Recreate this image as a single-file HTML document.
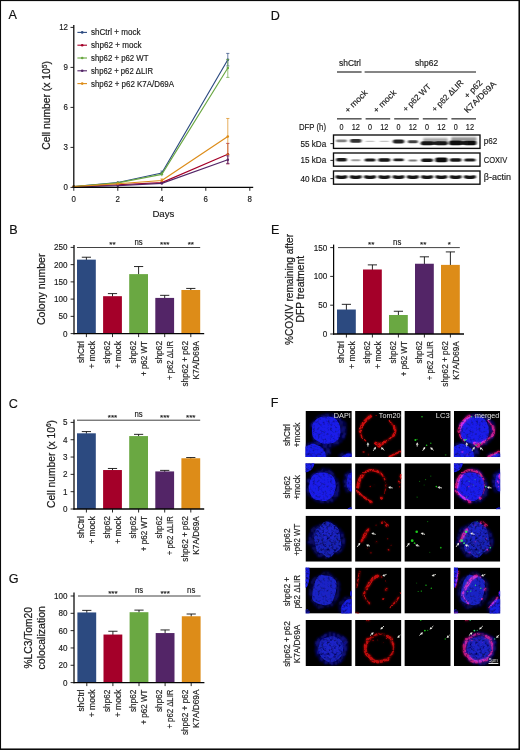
<!DOCTYPE html>
<html lang="en"><head><meta charset="utf-8"><title>Figure</title>
<style>
html,body{margin:0;padding:0;background:#fff;}
body{width:520px;height:750px;overflow:hidden;position:relative;font-family:"Liberation Sans",sans-serif;}
svg{display:block;position:absolute;left:0;top:0;}
svg text{font-family:"Liberation Sans",sans-serif;}
</style></head><body>
<svg width="520" height="750" viewBox="0 0 520 750">
<defs><filter id="bl1" filterUnits="userSpaceOnUse" x="328" y="128" width="160" height="64"><feGaussianBlur stdDeviation="0.9 0.6"/></filter><filter id="bl2" filterUnits="userSpaceOnUse" x="328" y="128" width="160" height="64"><feGaussianBlur stdDeviation="1.0 0.8"/></filter></defs>
<defs><filter id="nuc" x="-20%" y="-20%" width="140%" height="140%"><feTurbulence type="fractalNoise" baseFrequency="0.4" numOctaves="2" seed="4" result="n"/><feColorMatrix in="n" type="matrix" values="0 0 0 0 0  0 0 0 0 0  0 0 0 0 0  1.5 0 0 0 0.15" result="na"/><feComposite in="SourceGraphic" in2="na" operator="in" result="g"/><feGaussianBlur in="g" stdDeviation="0.6" result="b"/><feComponentTransfer in="b"><feFuncA type="linear" slope="1.12" intercept="0"/></feComponentTransfer></filter><filter id="haze" x="-20%" y="-20%" width="140%" height="140%"><feTurbulence type="fractalNoise" baseFrequency="0.5" numOctaves="2" seed="9" result="n"/><feColorMatrix in="n" type="matrix" values="0 0 0 0 0  0 0 0 0 0  0 0 0 0 0  3.4 0 0 0 -1.2" result="na"/><feComposite in="SourceGraphic" in2="na" operator="in" result="g"/><feGaussianBlur in="g" stdDeviation="0.8" result="b"/><feComponentTransfer in="b"><feFuncA type="linear" slope="1.3" intercept="0"/></feComponentTransfer></filter><filter id="nucg" x="-20%" y="-20%" width="140%" height="140%"><feTurbulence type="fractalNoise" baseFrequency="0.42" numOctaves="2" seed="31" result="n"/><feColorMatrix in="n" type="matrix" values="0 0 0 0 0  0 0 0 0 0  0 0 0 0 0  2.3 0 0 0 -0.4" result="na"/><feComposite in="SourceGraphic" in2="na" operator="in" result="g"/><feGaussianBlur in="g" stdDeviation="0.75" result="b"/><feComponentTransfer in="b"><feFuncA type="linear" slope="1.2" intercept="0"/></feComponentTransfer></filter><filter id="redf" x="-20%" y="-20%" width="140%" height="140%"><feTurbulence type="fractalNoise" baseFrequency="0.5" numOctaves="2" seed="17" result="n"/><feColorMatrix in="n" type="matrix" values="0 0 0 0 0  0 0 0 0 0  0 0 0 0 0  5.5 0 0 0 -2" result="na"/><feComposite in="SourceGraphic" in2="na" operator="in" result="g"/><feGaussianBlur in="g" stdDeviation="0.6" result="b"/><feComponentTransfer in="b"><feFuncA type="linear" slope="1.7" intercept="0"/></feComponentTransfer></filter><filter id="redh" x="-30%" y="-30%" width="160%" height="160%"><feTurbulence type="fractalNoise" baseFrequency="0.4" numOctaves="2" seed="23" result="n"/><feColorMatrix in="n" type="matrix" values="0 0 0 0 0  0 0 0 0 0  0 0 0 0 0  3.4 0 0 0 -1" result="na"/><feComposite in="SourceGraphic" in2="na" operator="in" result="g"/><feGaussianBlur in="g" stdDeviation="1.3" result="b"/><feComponentTransfer in="b"><feFuncA type="linear" slope="2.4" intercept="0"/></feComponentTransfer></filter><filter id="grn" x="-50%" y="-50%" width="200%" height="200%"><feGaussianBlur stdDeviation="0.35"/></filter></defs>
<defs><g id="h0"><g filter="url(#haze)" opacity="0.80"><path d="M41.1 16.4Q40.5 19.5 40.5 22.4Q40.5 25.4 38.7 27.8Q36.8 30.1 34.6 32.3Q32.4 34.5 29.4 35.6Q26.3 36.7 23.2 35.7Q20.1 34.8 17.4 33.8Q14.7 32.8 11.3 32.0Q7.9 31.2 7.2 28.1Q6.5 25.0 6.0 22.3Q5.5 19.5 4.7 16.3Q3.9 13.1 6.4 10.9Q8.9 8.6 11.0 6.2Q13.1 3.8 16.5 3.3Q19.8 2.8 23.1 2.6Q26.3 2.3 29.0 4.0Q31.6 5.8 34.6 7.0Q37.6 8.3 39.6 10.8Q41.7 13.3 41.1 16.4Z" fill="#1010a8" fill-opacity="1.00"/><path d="M25.6 39.8Q25.2 42.0 24.5 43.9Q23.8 45.8 22.9 47.7Q22.0 49.6 19.7 50.6Q17.4 51.7 15.0 52.2Q12.5 52.8 9.9 53.2Q7.3 53.6 4.3 53.4Q1.3 53.3 -0.8 51.7Q-3.0 50.2 -4.4 48.2Q-5.8 46.3 -5.5 44.2Q-5.1 42.0 -5.1 39.9Q-5.1 37.9 -3.4 36.2Q-1.7 34.6 0.4 33.5Q2.5 32.3 5.0 31.7Q7.4 31.1 10.0 31.0Q12.6 30.9 15.7 30.8Q18.7 30.7 20.9 32.2Q23.1 33.8 24.5 35.7Q26.0 37.6 25.6 39.8Z" fill="#1010a8" fill-opacity="1.00"/><path d="M49.0 44.3Q49.5 45.0 49.2 45.7Q49.0 46.5 48.1 47.0Q47.1 47.6 46.0 47.9Q44.8 48.3 43.5 48.4Q42.3 48.5 40.9 48.8Q39.6 49.1 38.3 48.8Q37.0 48.4 35.8 48.1Q34.6 47.7 34.1 47.0Q33.7 46.3 33.1 45.7Q32.6 45.0 33.2 44.3Q33.8 43.7 34.2 43.0Q34.5 42.3 35.7 41.8Q36.8 41.4 38.2 41.3Q39.6 41.1 41.0 41.1Q42.4 41.0 43.8 41.2Q45.1 41.4 45.9 42.0Q46.8 42.6 47.7 43.1Q48.6 43.6 49.0 44.3Z" fill="#1010a8" fill-opacity="1.00"/></g></g><g id="b0"><g filter="url(#nuc)"><path d="M34.6 16.0Q35.1 18.9 34.9 21.9Q34.6 24.9 33.6 26.8Q32.6 28.7 31.0 30.1Q29.3 31.5 26.9 32.0Q24.5 32.6 20.8 32.7Q17.1 32.8 15.0 31.7Q12.9 30.6 11.1 29.5Q9.3 28.5 8.1 26.7Q6.8 25.0 6.6 21.9Q6.4 18.9 6.6 15.9Q6.8 12.8 8.2 11.2Q9.6 9.6 11.1 8.2Q12.6 6.8 14.9 6.3Q17.3 5.7 20.8 5.6Q24.4 5.4 26.8 6.0Q29.1 6.7 30.5 8.2Q31.9 9.7 32.9 11.4Q34.0 13.2 34.6 16.0Z" fill="#1a1ce8" fill-opacity="1.00"/><path d="M20.2 44.1Q20.2 45.9 20.2 47.8Q20.1 49.8 18.1 50.6Q16.1 51.5 14.5 52.7Q13.0 54.0 10.8 53.7Q8.6 53.4 6.5 53.1Q4.5 52.8 2.2 52.3Q-0.1 51.8 -0.9 49.9Q-1.7 48.0 -2.9 46.4Q-4.0 44.7 -3.8 42.9Q-3.7 41.0 -2.9 39.4Q-2.2 37.7 -0.9 36.3Q0.5 35.0 2.4 34.4Q4.4 33.8 6.4 33.1Q8.4 32.4 10.4 33.4Q12.4 34.4 14.3 35.3Q16.1 36.2 17.2 37.7Q18.4 39.1 19.3 40.8Q20.3 42.4 20.2 44.1Z" fill="#1a1ce8" fill-opacity="0.92"/><path d="M48.3 44.1Q48.3 44.7 48.3 45.3Q48.3 45.9 48.0 46.6Q47.8 47.3 46.8 47.7Q45.7 48.2 44.8 48.6Q43.8 49.1 42.7 49.3Q41.6 49.6 40.6 49.4Q39.6 49.3 38.6 49.2Q37.5 49.1 36.8 48.8Q36.1 48.4 35.7 47.9Q35.3 47.4 35.8 46.7Q36.3 46.1 36.6 45.5Q36.9 44.9 37.7 44.4Q38.5 43.9 39.3 43.3Q40.1 42.8 41.3 42.6Q42.5 42.4 43.4 42.6Q44.4 42.8 45.6 42.7Q46.9 42.6 47.6 43.0Q48.3 43.4 48.3 44.1Z" fill="#1a1ce8" fill-opacity="0.85"/></g></g><g id="r0"><g filter="url(#redh)" opacity="0.55"><path d="M15.7 5.1Q12.3 7.5 10.7 9.2Q9.0 10.8 8.1 12.4Q7.2 14.0 6.4 15.8Q5.6 17.5 5.3 19.0L5.1 20.5" fill="none" stroke="currentColor" stroke-width="2.7" stroke-linecap="round" stroke-linejoin="round" stroke-opacity="1.00"/><path d="M5.1 20.5Q5.8 25.0 6.9 26.5Q8.0 28.0 9.3 28.9L10.6 29.8" fill="none" stroke="currentColor" stroke-width="1.3" stroke-linecap="round" stroke-linejoin="round" stroke-opacity="0.75"/><path d="M33.9 9.4Q36.5 12.5 37.5 13.8L38.6 15.2" fill="none" stroke="currentColor" stroke-width="1.2" stroke-linecap="round" stroke-linejoin="round" stroke-opacity="0.70"/><path d="M38.9 15.5Q40.2 18.5 40.1 20.0Q40.0 21.5 39.2 23.0L38.4 24.5" fill="none" stroke="currentColor" stroke-width="2.4" stroke-linecap="round" stroke-linejoin="round" stroke-opacity="0.95"/><path d="M38.4 24.5Q35.5 27.5 33.5 28.6Q31.5 29.8 30.0 30.7L28.5 31.6" fill="none" stroke="currentColor" stroke-width="1.4" stroke-linecap="round" stroke-linejoin="round" stroke-opacity="0.80"/><path d="M20.5 32.2Q23.5 33.6 25.2 33.2Q27.0 32.8 28.3 32.0L29.6 31.2" fill="none" stroke="currentColor" stroke-width="2.6" stroke-linecap="round" stroke-linejoin="round" stroke-opacity="1.00"/><circle cx="24.2" cy="34.6" r="2.00" fill="currentColor" fill-opacity="1.00"/><path d="M34.4 45.6Q39.0 43.6 42.1 42.1L45.2 40.6" fill="none" stroke="currentColor" stroke-width="1.7" stroke-linecap="round" stroke-linejoin="round" stroke-opacity="0.90"/><circle cx="21.0" cy="4.6" r="0.50" fill="currentColor" fill-opacity="0.80"/><circle cx="8.5" cy="41.0" r="1.20" fill="currentColor" fill-opacity="0.35"/><circle cx="13.0" cy="43.5" r="1.00" fill="currentColor" fill-opacity="0.30"/></g><g filter="url(#redf)" opacity="0.82"><path d="M15.7 5.1Q12.3 7.5 10.7 9.2Q9.0 10.8 8.1 12.4Q7.2 14.0 6.4 15.8Q5.6 17.5 5.3 19.0L5.1 20.5" fill="none" stroke="currentColor" stroke-width="2.7" stroke-linecap="round" stroke-linejoin="round" stroke-opacity="1.00"/><path d="M5.1 20.5Q5.8 25.0 6.9 26.5Q8.0 28.0 9.3 28.9L10.6 29.8" fill="none" stroke="currentColor" stroke-width="1.3" stroke-linecap="round" stroke-linejoin="round" stroke-opacity="0.75"/><path d="M33.9 9.4Q36.5 12.5 37.5 13.8L38.6 15.2" fill="none" stroke="currentColor" stroke-width="1.2" stroke-linecap="round" stroke-linejoin="round" stroke-opacity="0.70"/><path d="M38.9 15.5Q40.2 18.5 40.1 20.0Q40.0 21.5 39.2 23.0L38.4 24.5" fill="none" stroke="currentColor" stroke-width="2.4" stroke-linecap="round" stroke-linejoin="round" stroke-opacity="0.95"/><path d="M38.4 24.5Q35.5 27.5 33.5 28.6Q31.5 29.8 30.0 30.7L28.5 31.6" fill="none" stroke="currentColor" stroke-width="1.4" stroke-linecap="round" stroke-linejoin="round" stroke-opacity="0.80"/><path d="M20.5 32.2Q23.5 33.6 25.2 33.2Q27.0 32.8 28.3 32.0L29.6 31.2" fill="none" stroke="currentColor" stroke-width="2.6" stroke-linecap="round" stroke-linejoin="round" stroke-opacity="1.00"/><circle cx="24.2" cy="34.6" r="2.00" fill="currentColor" fill-opacity="1.00"/><path d="M34.4 45.6Q39.0 43.6 42.1 42.1L45.2 40.6" fill="none" stroke="currentColor" stroke-width="1.7" stroke-linecap="round" stroke-linejoin="round" stroke-opacity="0.90"/><circle cx="21.0" cy="4.6" r="0.50" fill="currentColor" fill-opacity="0.80"/><circle cx="8.5" cy="41.0" r="1.20" fill="currentColor" fill-opacity="0.35"/><circle cx="13.0" cy="43.5" r="1.00" fill="currentColor" fill-opacity="0.30"/></g></g><g id="g0" filter="url(#grn)"><circle cx="17.6" cy="5.7" r="0.80" fill="currentColor" fill-opacity="0.90"/><circle cx="11.0" cy="29.0" r="1.00" fill="currentColor" fill-opacity="1.00"/><circle cx="22.2" cy="34.3" r="0.80" fill="currentColor" fill-opacity="1.00"/><circle cx="26.4" cy="32.3" r="0.70" fill="currentColor" fill-opacity="0.80"/><circle cx="41.3" cy="43.8" r="0.90" fill="currentColor" fill-opacity="0.40"/><circle cx="12.6" cy="28.4" r="0.60" fill="currentColor" fill-opacity="0.70"/></g><g id="a0"><line x1="12.8" y1="35.6" x2="12.8" y2="33.7" stroke="#e9e9e2" stroke-width="0.9"/><polygon points="12.8,31.2 14.2,33.7 11.5,33.7" fill="#f0f0ea"/><line x1="18.2" y1="39.8" x2="19.4" y2="37.9" stroke="#e9e9e2" stroke-width="0.9"/><polygon points="20.8,35.8 20.6,38.6 18.3,37.2" fill="#f0f0ea"/><line x1="29.2" y1="39.3" x2="27.6" y2="37.9" stroke="#e9e9e2" stroke-width="0.9"/><polygon points="25.8,36.2 28.6,36.9 26.7,38.9" fill="#f0f0ea"/></g><g id="h1"><g filter="url(#haze)" opacity="0.80"><path d="M33.7 20.1Q34.2 23.0 34.4 26.2Q34.6 29.4 33.0 32.2Q31.4 35.0 29.1 37.3Q26.9 39.7 23.6 39.6Q20.3 39.6 17.5 39.7Q14.6 39.8 12.0 38.6Q9.4 37.5 7.1 35.7Q4.8 33.9 2.6 31.7Q0.3 29.4 0.8 26.2Q1.3 23.0 1.1 19.9Q1.0 16.8 2.9 14.4Q4.9 12.1 7.0 10.1Q9.1 8.1 11.8 6.8Q14.5 5.5 17.6 4.8Q20.7 4.1 23.6 5.6Q26.4 7.1 28.0 9.8Q29.6 12.6 31.4 14.8Q33.2 17.1 33.7 20.1Z" fill="#1010a8" fill-opacity="1.00"/><path d="M51.7 16.3Q51.4 18.5 51.6 20.6Q51.8 22.8 51.2 24.6Q50.5 26.4 49.7 28.1Q48.8 29.8 47.5 29.8Q46.2 29.8 45.0 29.8Q43.8 29.7 42.6 29.6Q41.3 29.4 40.4 27.9Q39.5 26.5 39.1 24.5Q38.7 22.4 38.2 20.5Q37.7 18.5 38.2 16.5Q38.6 14.5 38.9 12.4Q39.3 10.4 40.6 9.6Q41.8 8.9 42.8 8.1Q43.9 7.3 45.1 6.5Q46.3 5.7 47.4 7.1Q48.4 8.4 49.3 9.8Q50.1 11.2 51.0 12.7Q52.0 14.1 51.7 16.3Z" fill="#1010a8" fill-opacity="1.00"/></g></g><g id="b1"><g filter="url(#nuc)"><path d="M30.2 20.2Q30.6 23.2 29.8 26.0Q28.9 28.7 28.2 31.0Q27.5 33.3 25.7 34.5Q23.9 35.7 21.8 36.9Q19.8 38.2 16.9 37.6Q14.0 37.1 11.7 36.8Q9.3 36.5 7.7 34.9Q6.1 33.3 5.0 31.2Q3.8 29.1 3.4 26.2Q3.0 23.2 3.7 20.4Q4.5 17.6 5.4 15.5Q6.4 13.4 7.9 11.7Q9.4 10.1 11.7 9.6Q13.9 9.0 16.8 9.1Q19.6 9.1 21.8 9.8Q23.9 10.6 25.8 11.8Q27.7 13.0 28.7 15.1Q29.8 17.3 30.2 20.2Z" fill="#1a1ce8" fill-opacity="1.00"/><path d="M6.8 -3.9Q7.7 -3.1 8.4 -2.1Q9.1 -1.1 8.9 0.2Q8.7 1.5 8.2 2.8Q7.6 4.0 6.8 5.2Q6.1 6.3 4.9 7.2Q3.7 8.0 2.3 8.4Q0.9 8.9 -0.4 8.9Q-1.8 8.8 -2.9 8.3Q-4.0 7.7 -4.9 6.9Q-5.7 6.1 -6.5 5.1Q-7.2 4.1 -6.9 2.8Q-6.7 1.5 -6.4 0.1Q-6.1 -1.2 -5.2 -2.4Q-4.3 -3.6 -3.1 -4.5Q-1.8 -5.4 -0.4 -5.9Q1.1 -6.4 2.4 -6.0Q3.7 -5.6 4.9 -5.1Q6.0 -4.7 6.8 -3.9Z" fill="#1a1ce8" fill-opacity="0.95"/><path d="M50.6 17.0Q50.9 18.5 51.0 20.2Q51.1 21.9 50.6 23.3Q50.1 24.8 49.3 25.7Q48.6 26.7 47.7 27.0Q46.9 27.3 45.9 27.9Q45.0 28.4 44.1 27.8Q43.2 27.2 42.6 25.9Q42.0 24.6 41.6 23.2Q41.1 21.8 41.1 20.1Q41.1 18.5 41.3 17.0Q41.6 15.6 41.9 14.1Q42.1 12.6 42.7 11.3Q43.4 10.1 44.3 10.0Q45.2 10.0 46.1 9.3Q47.0 8.6 47.7 9.7Q48.5 10.7 49.1 11.7Q49.8 12.7 50.1 14.1Q50.4 15.5 50.6 17.0Z" fill="#1a1ce8" fill-opacity="0.75"/><path d="M48.9 46.1Q49.3 46.5 48.9 46.9Q48.6 47.3 48.2 47.6Q47.9 48.0 47.7 48.4Q47.4 48.9 46.7 48.8Q46.1 48.8 45.5 48.8Q44.9 48.8 44.3 48.8Q43.7 48.7 43.3 48.4Q42.9 48.1 42.4 47.7Q42.0 47.4 42.1 47.0Q42.2 46.5 42.0 46.0Q41.9 45.6 42.4 45.3Q42.9 45.0 43.3 44.6Q43.7 44.3 44.3 44.1Q44.8 43.8 45.5 43.9Q46.1 43.9 46.8 44.0Q47.4 44.2 47.8 44.5Q48.3 44.8 48.4 45.3Q48.5 45.7 48.9 46.1Z" fill="#1a1ce8" fill-opacity="0.90"/></g></g><g id="r1"><g filter="url(#redh)" opacity="0.55"><path d="M8.5 10.2Q6.0 13.5 5.2 15.2Q4.4 17.0 3.8 18.8Q3.2 20.5 3.0 22.1L2.8 23.7" fill="none" stroke="currentColor" stroke-width="3.0" stroke-linecap="round" stroke-linejoin="round" stroke-opacity="1.00"/><path d="M10.4 8.5Q13.5 7.2 15.3 7.0Q17.1 6.8 19.1 7.1Q21.0 7.4 22.9 8.3L24.8 9.2" fill="none" stroke="currentColor" stroke-width="2.0" stroke-linecap="round" stroke-linejoin="round" stroke-opacity="0.85"/><path d="M24.8 9.2Q27.8 12.0 28.8 13.8L29.8 15.5" fill="none" stroke="currentColor" stroke-width="1.6" stroke-linecap="round" stroke-linejoin="round" stroke-opacity="0.75"/><path d="M29.8 15.5Q31.0 21.5 30.7 23.8Q30.4 26.0 29.9 28.0L29.4 30.0" fill="none" stroke="currentColor" stroke-width="1.0" stroke-linecap="round" stroke-linejoin="round" stroke-opacity="0.55"/><circle cx="26.3" cy="34.6" r="1.50" fill="currentColor" fill-opacity="1.00"/><path d="M1.7 27.5Q4.5 30.5 5.8 31.5Q7.0 32.5 8.3 33.5L9.6 34.4" fill="none" stroke="currentColor" stroke-width="2.0" stroke-linecap="round" stroke-linejoin="round" stroke-opacity="0.75"/><path d="M9.6 34.4Q12.5 36.5 14.2 37.5L15.8 38.6" fill="none" stroke="currentColor" stroke-width="2.0" stroke-linecap="round" stroke-linejoin="round" stroke-opacity="0.85"/><circle cx="16.0" cy="38.8" r="1.40" fill="currentColor" fill-opacity="0.90"/><circle cx="15.2" cy="23.2" r="0.80" fill="currentColor" fill-opacity="0.50"/><circle cx="19.0" cy="22.0" r="0.50" fill="currentColor" fill-opacity="0.40"/><path d="M45.9 11.5Q45.4 13.5 45.6 14.2L45.9 15.0" fill="none" stroke="currentColor" stroke-width="1.8" stroke-linecap="round" stroke-linejoin="round" stroke-opacity="1.00"/><path d="M43.8 17.8L44.6 19.4" fill="none" stroke="currentColor" stroke-width="1.3" stroke-linecap="round" stroke-linejoin="round" stroke-opacity="0.85"/><circle cx="44.5" cy="23.5" r="0.80" fill="currentColor" fill-opacity="0.45"/></g><g filter="url(#redf)" opacity="0.82"><path d="M8.5 10.2Q6.0 13.5 5.2 15.2Q4.4 17.0 3.8 18.8Q3.2 20.5 3.0 22.1L2.8 23.7" fill="none" stroke="currentColor" stroke-width="3.0" stroke-linecap="round" stroke-linejoin="round" stroke-opacity="1.00"/><path d="M10.4 8.5Q13.5 7.2 15.3 7.0Q17.1 6.8 19.1 7.1Q21.0 7.4 22.9 8.3L24.8 9.2" fill="none" stroke="currentColor" stroke-width="2.0" stroke-linecap="round" stroke-linejoin="round" stroke-opacity="0.85"/><path d="M24.8 9.2Q27.8 12.0 28.8 13.8L29.8 15.5" fill="none" stroke="currentColor" stroke-width="1.6" stroke-linecap="round" stroke-linejoin="round" stroke-opacity="0.75"/><path d="M29.8 15.5Q31.0 21.5 30.7 23.8Q30.4 26.0 29.9 28.0L29.4 30.0" fill="none" stroke="currentColor" stroke-width="1.0" stroke-linecap="round" stroke-linejoin="round" stroke-opacity="0.55"/><circle cx="26.3" cy="34.6" r="1.50" fill="currentColor" fill-opacity="1.00"/><path d="M1.7 27.5Q4.5 30.5 5.8 31.5Q7.0 32.5 8.3 33.5L9.6 34.4" fill="none" stroke="currentColor" stroke-width="2.0" stroke-linecap="round" stroke-linejoin="round" stroke-opacity="0.75"/><path d="M9.6 34.4Q12.5 36.5 14.2 37.5L15.8 38.6" fill="none" stroke="currentColor" stroke-width="2.0" stroke-linecap="round" stroke-linejoin="round" stroke-opacity="0.85"/><circle cx="16.0" cy="38.8" r="1.40" fill="currentColor" fill-opacity="0.90"/><circle cx="15.2" cy="23.2" r="0.80" fill="currentColor" fill-opacity="0.50"/><circle cx="19.0" cy="22.0" r="0.50" fill="currentColor" fill-opacity="0.40"/><path d="M45.9 11.5Q45.4 13.5 45.6 14.2L45.9 15.0" fill="none" stroke="currentColor" stroke-width="1.8" stroke-linecap="round" stroke-linejoin="round" stroke-opacity="1.00"/><path d="M43.8 17.8L44.6 19.4" fill="none" stroke="currentColor" stroke-width="1.3" stroke-linecap="round" stroke-linejoin="round" stroke-opacity="0.85"/><circle cx="44.5" cy="23.5" r="0.80" fill="currentColor" fill-opacity="0.45"/></g></g><g id="g1" filter="url(#grn)"><circle cx="26.4" cy="12.7" r="0.60" fill="currentColor" fill-opacity="0.60"/><circle cx="21.2" cy="16.3" r="0.60" fill="currentColor" fill-opacity="0.60"/><circle cx="15.2" cy="18.0" r="0.60" fill="currentColor" fill-opacity="0.50"/><circle cx="31.9" cy="23.3" r="0.80" fill="currentColor" fill-opacity="1.00"/><circle cx="19.7" cy="21.8" r="0.50" fill="currentColor" fill-opacity="0.50"/><circle cx="12.7" cy="33.8" r="0.60" fill="currentColor" fill-opacity="0.60"/></g><g id="a1"><line x1="37.6" y1="24.7" x2="35.5" y2="24.3" stroke="#e9e9e2" stroke-width="0.9"/><polygon points="33.0,23.8 35.7,23.0 35.2,25.6" fill="#f0f0ea"/></g><g id="h2"><g filter="url(#haze)" opacity="0.75"><path d="M39.1 20.5Q40.1 24.0 39.6 27.7Q39.0 31.3 37.2 34.4Q35.3 37.6 31.6 38.0Q28.0 38.5 25.6 40.9Q23.2 43.2 20.1 42.8Q16.9 42.3 13.9 41.5Q10.9 40.6 9.3 37.8Q7.6 34.9 6.1 32.4Q4.5 29.9 3.4 27.0Q2.3 24.0 3.3 21.0Q4.4 18.0 5.4 15.0Q6.4 11.9 9.3 10.8Q12.2 9.7 14.7 8.6Q17.2 7.5 20.3 5.8Q23.3 4.2 26.1 6.0Q28.8 7.9 31.3 9.8Q33.8 11.7 35.9 14.4Q38.0 17.1 39.1 20.5Z" fill="#1010a8" fill-opacity="1.00"/><path d="M16.4 26.0Q16.4 27.0 16.3 27.9Q16.2 28.9 15.0 29.4Q13.9 29.9 13.4 30.9Q13.0 31.9 11.5 31.7Q10.1 31.5 8.9 31.8Q7.7 32.2 6.8 31.5Q5.9 30.8 4.6 30.6Q3.3 30.4 3.2 29.5Q3.1 28.5 2.3 27.8Q1.6 27.0 1.8 26.1Q2.0 25.2 2.6 24.4Q3.2 23.5 4.4 23.1Q5.6 22.7 6.6 22.2Q7.7 21.6 9.0 21.5Q10.4 21.4 11.3 22.3Q12.1 23.1 13.3 23.5Q14.4 23.8 15.4 24.4Q16.4 25.1 16.4 26.0Z" fill="#1010a8" fill-opacity="1.00"/></g></g><g id="b2"><g filter="url(#nucg)"><path d="M34.5 19.7Q34.7 22.8 35.5 25.9Q36.4 29.1 35.2 32.0Q33.9 34.8 31.4 35.8Q28.9 36.8 27.3 39.4Q25.7 42.0 23.1 41.7Q20.5 41.3 18.6 39.2Q16.7 37.1 13.8 37.0Q10.9 37.0 10.5 33.6Q10.2 30.2 9.5 27.5Q8.8 24.8 8.7 22.0Q8.7 19.1 9.4 16.3Q10.1 13.5 12.3 12.3Q14.5 11.2 16.1 8.8Q17.7 6.4 20.2 5.9Q22.7 5.4 25.0 6.9Q27.2 8.5 29.6 9.8Q31.9 11.1 33.1 13.9Q34.3 16.7 34.5 19.7Z" fill="#1a22b8" fill-opacity="0.90"/><path d="M30.6 15.8Q31.4 17.0 30.7 18.2Q30.0 19.4 29.3 20.5Q28.6 21.5 27.7 22.6Q26.8 23.6 25.3 23.7Q23.8 23.7 22.4 24.3Q20.9 24.8 19.5 24.3Q18.0 23.8 17.3 22.6Q16.6 21.4 15.4 20.5Q14.2 19.7 14.1 18.3Q14.0 17.0 14.1 15.7Q14.3 14.4 14.8 13.1Q15.4 11.7 16.6 10.8Q17.8 9.9 19.4 9.8Q21.1 9.7 22.6 9.4Q24.1 9.1 25.5 9.6Q27.0 10.1 28.3 10.9Q29.6 11.7 29.7 13.2Q29.7 14.7 30.6 15.8Z" fill="#1e26d4" fill-opacity="0.60"/></g></g><g id="r2"><g filter="url(#redh)" opacity="0.55"><path d="M13.4 13.6Q11.4 16.0 10.6 17.2Q9.8 18.5 9.2 20.0Q8.6 21.5 8.0 22.8Q7.4 24.0 6.9 24.8L6.4 25.6" fill="none" stroke="currentColor" stroke-width="2.0" stroke-linecap="round" stroke-linejoin="round" stroke-opacity="0.90"/><path d="M10.2 18.0L8.9 21.6" fill="none" stroke="currentColor" stroke-width="3.0" stroke-linecap="round" stroke-linejoin="round" stroke-opacity="1.00"/><circle cx="27.2" cy="7.1" r="1.20" fill="currentColor" fill-opacity="0.90"/><circle cx="32.0" cy="9.5" r="1.50" fill="currentColor" fill-opacity="0.95"/><path d="M28.5 5.5Q30.5 6.5 31.2 7.8L32.0 9.0" fill="none" stroke="currentColor" stroke-width="0.9" stroke-linecap="round" stroke-linejoin="round" stroke-opacity="0.60"/><circle cx="21.4" cy="26.3" r="0.80" fill="currentColor" fill-opacity="0.45"/><circle cx="32.5" cy="23.0" r="0.80" fill="currentColor" fill-opacity="0.40"/><circle cx="33.5" cy="34.0" r="1.00" fill="currentColor" fill-opacity="0.55"/><circle cx="15.7" cy="37.0" r="0.90" fill="currentColor" fill-opacity="0.45"/><circle cx="12.3" cy="32.6" r="0.80" fill="currentColor" fill-opacity="0.40"/><circle cx="21.0" cy="9.5" r="0.80" fill="currentColor" fill-opacity="0.35"/><circle cx="36.0" cy="29.5" r="0.70" fill="currentColor" fill-opacity="0.30"/></g><g filter="url(#redf)" opacity="0.72"><path d="M13.4 13.6Q11.4 16.0 10.6 17.2Q9.8 18.5 9.2 20.0Q8.6 21.5 8.0 22.8Q7.4 24.0 6.9 24.8L6.4 25.6" fill="none" stroke="currentColor" stroke-width="2.0" stroke-linecap="round" stroke-linejoin="round" stroke-opacity="0.90"/><path d="M10.2 18.0L8.9 21.6" fill="none" stroke="currentColor" stroke-width="3.0" stroke-linecap="round" stroke-linejoin="round" stroke-opacity="1.00"/><circle cx="27.2" cy="7.1" r="1.20" fill="currentColor" fill-opacity="0.90"/><circle cx="32.0" cy="9.5" r="1.50" fill="currentColor" fill-opacity="0.95"/><path d="M28.5 5.5Q30.5 6.5 31.2 7.8L32.0 9.0" fill="none" stroke="currentColor" stroke-width="0.9" stroke-linecap="round" stroke-linejoin="round" stroke-opacity="0.60"/><circle cx="21.4" cy="26.3" r="0.80" fill="currentColor" fill-opacity="0.45"/><circle cx="32.5" cy="23.0" r="0.80" fill="currentColor" fill-opacity="0.40"/><circle cx="33.5" cy="34.0" r="1.00" fill="currentColor" fill-opacity="0.55"/><circle cx="15.7" cy="37.0" r="0.90" fill="currentColor" fill-opacity="0.45"/><circle cx="12.3" cy="32.6" r="0.80" fill="currentColor" fill-opacity="0.40"/><circle cx="21.0" cy="9.5" r="0.80" fill="currentColor" fill-opacity="0.35"/><circle cx="36.0" cy="29.5" r="0.70" fill="currentColor" fill-opacity="0.30"/></g></g><g id="g2" filter="url(#grn)"><circle cx="23.3" cy="5.9" r="0.60" fill="currentColor" fill-opacity="0.60"/><circle cx="12.3" cy="16.1" r="1.30" fill="currentColor" fill-opacity="1.00"/><circle cx="7.8" cy="25.0" r="1.40" fill="currentColor" fill-opacity="1.00"/><circle cx="10.2" cy="27.5" r="0.90" fill="currentColor" fill-opacity="0.90"/><circle cx="36.4" cy="32.0" r="0.90" fill="currentColor" fill-opacity="0.80"/><circle cx="25.4" cy="36.6" r="0.60" fill="currentColor" fill-opacity="0.40"/></g><g id="a2"><line x1="20.6" y1="18.7" x2="18.6" y2="18.1" stroke="#e9e9e2" stroke-width="0.9"/><polygon points="16.2,17.4 19.0,16.8 18.2,19.4" fill="#f0f0ea"/><line x1="2.2" y1="31.2" x2="3.7" y2="29.0" stroke="#e9e9e2" stroke-width="0.9"/><polygon points="5.2,27.0 4.8,29.8 2.6,28.2" fill="#f0f0ea"/><line x1="14.9" y1="30.4" x2="13.3" y2="29.9" stroke="#e9e9e2" stroke-width="0.9"/><polygon points="10.9,29.1 13.7,28.6 12.9,31.2" fill="#f0f0ea"/></g><g id="h3"><g filter="url(#haze)" opacity="0.60"><path d="M34.9 22.8Q34.6 26.2 33.5 29.4Q32.4 32.6 30.6 35.5Q28.9 38.4 26.0 39.1Q23.1 39.8 20.6 40.2Q18.0 40.6 15.2 41.1Q12.3 41.7 10.4 39.5Q8.4 37.2 6.8 34.8Q5.2 32.4 3.9 29.5Q2.6 26.7 3.6 23.4Q4.6 20.1 4.9 16.6Q5.2 13.1 7.5 10.9Q9.8 8.7 12.4 7.6Q15.0 6.5 17.6 4.7Q20.2 2.9 22.8 3.9Q25.4 5.0 27.3 7.2Q29.1 9.4 31.5 11.1Q33.8 12.9 34.5 16.1Q35.3 19.4 34.9 22.8Z" fill="#1010a8" fill-opacity="1.00"/><path d="M50.7 40.4Q49.3 42.0 48.2 43.4Q47.2 44.8 46.0 46.3Q44.7 47.7 43.1 47.8Q41.4 47.8 39.9 47.7Q38.5 47.5 37.0 47.1Q35.5 46.7 34.6 45.4Q33.6 44.1 33.4 42.4Q33.1 40.7 33.0 39.0Q33.0 37.3 33.3 35.3Q33.6 33.4 35.2 32.3Q36.8 31.2 38.2 30.1Q39.5 29.1 41.0 28.8Q42.6 28.5 44.1 28.4Q45.6 28.3 46.8 29.1Q48.0 30.0 49.7 30.6Q51.3 31.2 51.2 33.2Q51.1 35.2 51.6 37.0Q52.1 38.8 50.7 40.4Z" fill="#1010a8" fill-opacity="1.00"/></g></g><g id="b3"><g filter="url(#nuc)"><path d="M30.7 21.6Q30.2 25.1 29.1 28.5Q27.9 31.9 27.0 33.9Q26.0 35.9 24.4 36.5Q22.8 37.1 20.9 37.5Q18.9 37.9 15.6 37.0Q12.3 36.1 10.6 35.2Q8.9 34.2 7.7 32.9Q6.4 31.7 6.6 29.3Q6.9 27.0 7.2 23.5Q7.5 20.1 8.7 16.8Q9.8 13.4 10.8 11.7Q11.9 9.9 13.2 8.5Q14.5 7.0 16.6 7.3Q18.7 7.6 22.1 8.2Q25.5 8.7 27.1 9.9Q28.7 11.0 29.8 12.4Q30.9 13.7 31.0 15.9Q31.1 18.1 30.7 21.6Z" fill="#1a22c4" fill-opacity="1.00"/><path d="M4.3 6.3Q4.2 8.3 4.0 10.4Q3.7 12.5 3.3 14.5Q2.8 16.5 2.1 18.1Q1.4 19.7 0.6 19.9Q-0.2 20.1 -1.0 20.0Q-1.7 19.9 -2.4 19.2Q-3.1 18.6 -3.7 17.5Q-4.4 16.4 -4.4 14.1Q-4.4 11.9 -4.6 9.7Q-4.8 7.6 -4.4 5.4Q-4.1 3.1 -3.4 1.5Q-2.7 -0.1 -2.0 -1.8Q-1.4 -3.5 -0.6 -4.1Q0.2 -4.7 1.0 -4.6Q1.8 -4.5 2.6 -4.2Q3.4 -3.9 3.7 -1.7Q3.9 0.5 4.1 2.4Q4.3 4.2 4.3 6.3Z" fill="#1a1ce8" fill-opacity="0.90"/><path d="M4.3 44.0Q4.2 44.5 4.2 45.0Q4.2 45.5 3.9 45.9Q3.7 46.4 3.4 46.8Q3.1 47.3 2.6 47.4Q2.0 47.5 1.5 47.5Q1.0 47.6 0.5 47.2Q0.1 46.9 -0.3 46.7Q-0.8 46.4 -1.2 46.0Q-1.5 45.6 -1.5 45.0Q-1.5 44.5 -1.5 43.9Q-1.6 43.4 -1.3 42.9Q-1.0 42.4 -0.5 42.2Q0.0 42.0 0.5 41.9Q1.0 41.8 1.5 41.6Q2.0 41.4 2.5 41.7Q2.9 42.1 3.2 42.4Q3.6 42.8 4.0 43.1Q4.4 43.4 4.3 44.0Z" fill="#1a1ce8" fill-opacity="0.60"/><path d="M50.5 42.9Q50.0 44.5 48.9 45.8Q47.9 47.1 46.6 48.1Q45.3 49.1 43.9 49.1Q42.4 49.2 41.0 49.3Q39.6 49.4 38.4 48.8Q37.1 48.3 36.3 47.1Q35.5 45.9 35.7 44.2Q35.8 42.6 35.7 41.1Q35.6 39.6 36.3 38.0Q37.0 36.5 38.1 35.3Q39.2 34.0 40.4 32.9Q41.7 31.7 43.1 31.6Q44.6 31.5 45.9 31.7Q47.2 31.9 48.6 32.3Q49.9 32.7 50.5 34.0Q51.2 35.3 51.2 36.9Q51.3 38.4 51.2 39.9Q51.0 41.4 50.5 42.9Z" fill="#1a1ce8" fill-opacity="0.85"/><path d="M47.5 25.5Q47.6 26.0 47.6 26.5Q47.5 27.0 47.4 27.6Q47.3 28.1 47.1 28.4Q46.9 28.8 46.6 29.0Q46.3 29.2 46.0 29.0Q45.7 28.9 45.4 28.9Q45.1 28.8 45.0 28.4Q44.8 27.9 44.7 27.4Q44.6 27.0 44.5 26.5Q44.5 26.0 44.5 25.5Q44.5 25.0 44.7 24.6Q44.9 24.2 45.0 23.9Q45.2 23.5 45.5 23.2Q45.7 23.0 46.0 22.9Q46.3 22.9 46.6 23.1Q46.8 23.3 47.0 23.8Q47.1 24.2 47.2 24.6Q47.4 25.1 47.5 25.5Z" fill="#1a1ce8" fill-opacity="0.80"/></g></g><g id="r3"><g filter="url(#redh)" opacity="0.55"><path d="M22.5 8.4Q19.0 9.6 17.6 11.3Q16.2 13.0 14.8 15.2Q13.4 17.5 12.4 19.4L11.3 21.3" fill="none" stroke="currentColor" stroke-width="2.6" stroke-linecap="round" stroke-linejoin="round" stroke-opacity="1.00"/><path d="M11.3 21.3Q9.6 24.5 9.1 25.9L8.5 27.4" fill="none" stroke="currentColor" stroke-width="1.9" stroke-linecap="round" stroke-linejoin="round" stroke-opacity="0.90"/><path d="M8.5 27.4Q10.0 30.6 11.1 32.0Q12.2 33.4 13.3 34.6L14.4 35.9" fill="none" stroke="currentColor" stroke-width="1.4" stroke-linecap="round" stroke-linejoin="round" stroke-opacity="0.80"/><path d="M22.5 8.4Q25.0 8.6 25.9 9.1L26.9 9.6" fill="none" stroke="currentColor" stroke-width="1.0" stroke-linecap="round" stroke-linejoin="round" stroke-opacity="0.70"/><path d="M4.6 3.6Q3.6 8.5 3.1 11.2Q2.6 14.0 2.2 16.7L1.8 19.4" fill="none" stroke="currentColor" stroke-width="1.3" stroke-linecap="round" stroke-linejoin="round" stroke-opacity="0.70"/><path d="M30.4 13.0L31.2 15.0" fill="none" stroke="currentColor" stroke-width="0.9" stroke-linecap="round" stroke-linejoin="round" stroke-opacity="0.40"/><path d="M31.7 21.0L30.6 22.6" fill="none" stroke="currentColor" stroke-width="1.5" stroke-linecap="round" stroke-linejoin="round" stroke-opacity="0.95"/><circle cx="28.2" cy="31.4" r="1.10" fill="currentColor" fill-opacity="0.95"/><circle cx="45.2" cy="25.7" r="1.00" fill="currentColor" fill-opacity="1.00"/><path d="M43.6 29.5Q42.4 32.5 40.7 34.0Q39.0 35.4 37.9 36.7Q36.8 38.0 36.0 39.0L35.2 40.0" fill="none" stroke="currentColor" stroke-width="1.4" stroke-linecap="round" stroke-linejoin="round" stroke-opacity="0.75"/><path d="M0.3 45.5L3.5 45.8" fill="none" stroke="currentColor" stroke-width="1.0" stroke-linecap="round" stroke-linejoin="round" stroke-opacity="0.70"/></g><g filter="url(#redf)" opacity="0.72"><path d="M22.5 8.4Q19.0 9.6 17.6 11.3Q16.2 13.0 14.8 15.2Q13.4 17.5 12.4 19.4L11.3 21.3" fill="none" stroke="currentColor" stroke-width="2.6" stroke-linecap="round" stroke-linejoin="round" stroke-opacity="1.00"/><path d="M11.3 21.3Q9.6 24.5 9.1 25.9L8.5 27.4" fill="none" stroke="currentColor" stroke-width="1.9" stroke-linecap="round" stroke-linejoin="round" stroke-opacity="0.90"/><path d="M8.5 27.4Q10.0 30.6 11.1 32.0Q12.2 33.4 13.3 34.6L14.4 35.9" fill="none" stroke="currentColor" stroke-width="1.4" stroke-linecap="round" stroke-linejoin="round" stroke-opacity="0.80"/><path d="M22.5 8.4Q25.0 8.6 25.9 9.1L26.9 9.6" fill="none" stroke="currentColor" stroke-width="1.0" stroke-linecap="round" stroke-linejoin="round" stroke-opacity="0.70"/><path d="M4.6 3.6Q3.6 8.5 3.1 11.2Q2.6 14.0 2.2 16.7L1.8 19.4" fill="none" stroke="currentColor" stroke-width="1.3" stroke-linecap="round" stroke-linejoin="round" stroke-opacity="0.70"/><path d="M30.4 13.0L31.2 15.0" fill="none" stroke="currentColor" stroke-width="0.9" stroke-linecap="round" stroke-linejoin="round" stroke-opacity="0.40"/><path d="M31.7 21.0L30.6 22.6" fill="none" stroke="currentColor" stroke-width="1.5" stroke-linecap="round" stroke-linejoin="round" stroke-opacity="0.95"/><circle cx="28.2" cy="31.4" r="1.10" fill="currentColor" fill-opacity="0.95"/><circle cx="45.2" cy="25.7" r="1.00" fill="currentColor" fill-opacity="1.00"/><path d="M43.6 29.5Q42.4 32.5 40.7 34.0Q39.0 35.4 37.9 36.7Q36.8 38.0 36.0 39.0L35.2 40.0" fill="none" stroke="currentColor" stroke-width="1.4" stroke-linecap="round" stroke-linejoin="round" stroke-opacity="0.75"/><path d="M0.3 45.5L3.5 45.8" fill="none" stroke="currentColor" stroke-width="1.0" stroke-linecap="round" stroke-linejoin="round" stroke-opacity="0.70"/></g></g><g id="g3" filter="url(#grn)"><circle cx="21.6" cy="17.6" r="0.70" fill="currentColor" fill-opacity="0.90"/><circle cx="26.9" cy="20.7" r="0.70" fill="currentColor" fill-opacity="0.90"/><circle cx="16.9" cy="23.5" r="0.70" fill="currentColor" fill-opacity="0.90"/><circle cx="13.8" cy="23.9" r="0.60" fill="currentColor" fill-opacity="0.70"/><circle cx="12.3" cy="15.4" r="0.50" fill="currentColor" fill-opacity="0.50"/></g><g id="a3"><line x1="31.4" y1="6.8" x2="29.5" y2="7.6" stroke="#e9e9e2" stroke-width="0.9"/><polygon points="27.2,8.5 29.0,6.3 30.0,8.8" fill="#f0f0ea"/></g><g id="h4"><g filter="url(#haze)" opacity="0.90"><path d="M43.0 25.4Q43.1 28.5 41.6 31.1Q40.2 33.7 39.5 36.5Q38.8 39.4 36.7 41.6Q34.6 43.8 31.6 44.8Q28.6 45.8 25.6 45.3Q22.5 44.8 19.7 44.0Q16.8 43.2 14.8 41.0Q12.8 38.8 11.1 36.5Q9.4 34.2 9.6 31.3Q9.8 28.5 9.4 25.6Q8.9 22.7 10.6 20.2Q12.2 17.7 14.8 16.3Q17.4 14.8 20.0 13.7Q22.6 12.6 25.6 12.1Q28.6 11.5 31.2 12.9Q33.9 14.4 36.8 15.6Q39.7 16.9 41.4 19.6Q43.0 22.3 43.0 25.4Z" fill="#1010a8" fill-opacity="1.00"/></g></g><g id="b4"><g filter="url(#nucg)"><path d="M37.7 26.2Q37.6 28.8 37.4 31.2Q37.1 33.6 36.0 35.4Q34.9 37.2 33.5 38.6Q32.0 40.1 30.0 40.9Q28.0 41.7 25.4 41.8Q22.8 41.8 20.8 40.9Q18.9 39.9 17.3 38.6Q15.7 37.3 14.8 35.4Q14.0 33.5 13.1 31.2Q12.3 28.8 13.1 26.4Q13.8 24.0 14.4 21.9Q15.1 19.7 17.0 18.8Q19.0 18.0 21.0 17.4Q23.0 16.7 25.5 16.4Q27.9 16.1 30.0 16.8Q32.0 17.5 33.8 18.7Q35.6 19.8 36.7 21.8Q37.8 23.7 37.7 26.2Z" fill="#1a22b8" fill-opacity="0.92"/><path d="M33.9 27.3Q34.4 28.8 34.3 30.4Q34.2 32.0 33.1 33.1Q31.9 34.3 30.8 35.3Q29.8 36.4 28.4 37.3Q27.0 38.2 25.4 38.0Q23.8 37.8 22.5 37.0Q21.1 36.2 19.9 35.4Q18.6 34.5 17.6 33.2Q16.6 32.0 16.5 30.4Q16.5 28.8 16.9 27.3Q17.4 25.9 17.8 24.3Q18.2 22.7 19.6 22.0Q21.1 21.4 22.5 20.6Q23.8 19.8 25.4 19.8Q27.0 19.8 28.4 20.4Q29.9 21.0 31.3 21.9Q32.7 22.7 33.1 24.3Q33.5 25.8 33.9 27.3Z" fill="#1e26d4" fill-opacity="0.50"/></g></g><g id="r4"><g filter="url(#redh)" opacity="0.55"><path d="M17.6 39.9Q15.4 38.0 14.5 36.9Q13.6 35.9 12.3 34.9Q11.0 34.0 10.8 32.4Q10.6 30.9 10.3 29.4Q10.1 28.0 10.3 26.5Q10.6 25.0 11.2 23.7Q11.7 22.3 12.2 20.9L12.6 19.4" fill="none" stroke="currentColor" stroke-width="2.8" stroke-linecap="round" stroke-opacity="1.00"/><path d="M32.8 39.5Q30.0 39.8 28.9 40.4Q27.7 41.1 26.5 41.2Q25.2 41.3 23.9 41.7Q22.5 42.0 21.2 41.7Q19.9 41.3 18.6 40.9L17.3 40.5" fill="none" stroke="currentColor" stroke-width="2.7" stroke-linecap="round" stroke-opacity="1.00"/><path d="M37.9 31.3Q37.4 33.6 36.5 34.4Q35.6 35.3 35.0 36.3Q34.4 37.3 33.3 37.9L32.3 38.4" fill="none" stroke="currentColor" stroke-width="1.7" stroke-linecap="round" stroke-opacity="0.65"/><path d="M14.2 20.5Q15.0 17.6 16.4 17.2Q17.8 16.8 18.9 15.9Q20.0 15.1 21.3 14.5L22.7 14.0" fill="none" stroke="currentColor" stroke-width="1.9" stroke-linecap="round" stroke-opacity="0.70"/><path d="M22.6 13.5Q25.0 14.4 26.1 14.3Q27.2 14.3 28.4 14.3Q29.6 14.3 30.4 15.4L31.1 16.5" fill="none" stroke="currentColor" stroke-width="1.5" stroke-linecap="round" stroke-opacity="0.45"/><path d="M31.7 15.9Q34.2 17.2 35.4 18.0Q36.7 18.8 36.8 20.4Q36.8 21.9 37.4 23.1L37.9 24.3" fill="none" stroke="currentColor" stroke-width="2.4" stroke-linecap="round" stroke-opacity="0.80"/><path d="M37.8 24.4Q38.4 26.6 38.4 27.8Q38.5 29.0 38.1 30.1L37.8 31.2" fill="none" stroke="currentColor" stroke-width="1.6" stroke-linecap="round" stroke-opacity="0.55"/><circle cx="18.0" cy="20.5" r="0.70" fill="currentColor" fill-opacity="0.50"/><circle cx="22.5" cy="20.0" r="0.60" fill="currentColor" fill-opacity="0.40"/><circle cx="28.0" cy="22.5" r="0.60" fill="currentColor" fill-opacity="0.40"/><circle cx="31.0" cy="18.5" r="0.80" fill="currentColor" fill-opacity="0.60"/><path d="M11.5 0.6L14.5 0.3" fill="none" stroke="currentColor" stroke-width="1.0" stroke-linecap="round" stroke-linejoin="round" stroke-opacity="0.60"/></g><g filter="url(#redf)" opacity="0.72"><path d="M17.6 39.9Q15.4 38.0 14.5 36.9Q13.6 35.9 12.3 34.9Q11.0 34.0 10.8 32.4Q10.6 30.9 10.3 29.4Q10.1 28.0 10.3 26.5Q10.6 25.0 11.2 23.7Q11.7 22.3 12.2 20.9L12.6 19.4" fill="none" stroke="currentColor" stroke-width="2.8" stroke-linecap="round" stroke-opacity="1.00"/><path d="M32.8 39.5Q30.0 39.8 28.9 40.4Q27.7 41.1 26.5 41.2Q25.2 41.3 23.9 41.7Q22.5 42.0 21.2 41.7Q19.9 41.3 18.6 40.9L17.3 40.5" fill="none" stroke="currentColor" stroke-width="2.7" stroke-linecap="round" stroke-opacity="1.00"/><path d="M37.9 31.3Q37.4 33.6 36.5 34.4Q35.6 35.3 35.0 36.3Q34.4 37.3 33.3 37.9L32.3 38.4" fill="none" stroke="currentColor" stroke-width="1.7" stroke-linecap="round" stroke-opacity="0.65"/><path d="M14.2 20.5Q15.0 17.6 16.4 17.2Q17.8 16.8 18.9 15.9Q20.0 15.1 21.3 14.5L22.7 14.0" fill="none" stroke="currentColor" stroke-width="1.9" stroke-linecap="round" stroke-opacity="0.70"/><path d="M22.6 13.5Q25.0 14.4 26.1 14.3Q27.2 14.3 28.4 14.3Q29.6 14.3 30.4 15.4L31.1 16.5" fill="none" stroke="currentColor" stroke-width="1.5" stroke-linecap="round" stroke-opacity="0.45"/><path d="M31.7 15.9Q34.2 17.2 35.4 18.0Q36.7 18.8 36.8 20.4Q36.8 21.9 37.4 23.1L37.9 24.3" fill="none" stroke="currentColor" stroke-width="2.4" stroke-linecap="round" stroke-opacity="0.80"/><path d="M37.8 24.4Q38.4 26.6 38.4 27.8Q38.5 29.0 38.1 30.1L37.8 31.2" fill="none" stroke="currentColor" stroke-width="1.6" stroke-linecap="round" stroke-opacity="0.55"/><circle cx="18.0" cy="20.5" r="0.70" fill="currentColor" fill-opacity="0.50"/><circle cx="22.5" cy="20.0" r="0.60" fill="currentColor" fill-opacity="0.40"/><circle cx="28.0" cy="22.5" r="0.60" fill="currentColor" fill-opacity="0.40"/><circle cx="31.0" cy="18.5" r="0.80" fill="currentColor" fill-opacity="0.60"/><path d="M11.5 0.6L14.5 0.3" fill="none" stroke="currentColor" stroke-width="1.0" stroke-linecap="round" stroke-linejoin="round" stroke-opacity="0.60"/></g></g><g id="g4" filter="url(#grn)"><circle cx="20.5" cy="10.6" r="0.90" fill="currentColor" fill-opacity="1.00"/><circle cx="23.3" cy="10.3" r="0.60" fill="currentColor" fill-opacity="0.80"/><circle cx="40.8" cy="19.0" r="0.70" fill="currentColor" fill-opacity="0.90"/><circle cx="16.3" cy="0.2" r="0.80" fill="currentColor" fill-opacity="0.80"/></g><g id="a4"><line x1="15.0" y1="15.5" x2="16.7" y2="14.0" stroke="#e9e9e2" stroke-width="0.9"/><polygon points="18.6,12.3 17.6,15.0 15.8,13.0" fill="#f0f0ea"/><line x1="28.9" y1="6.0" x2="27.0" y2="7.9" stroke="#e9e9e2" stroke-width="0.9"/><polygon points="25.2,9.6 26.1,6.9 27.9,8.8" fill="#f0f0ea"/><line x1="45.3" y1="15.0" x2="44.0" y2="16.2" stroke="#e9e9e2" stroke-width="0.9"/><polygon points="42.2,17.9 43.1,15.2 44.9,17.2" fill="#f0f0ea"/></g></defs>
<text x="8.40" y="19.00" font-size="12.6" fill="#111" stroke="#111" stroke-width="0.16">A</text>
<text x="9.30" y="233.80" font-size="12.6" fill="#111" stroke="#111" stroke-width="0.16">B</text>
<text x="8.80" y="408.00" font-size="12.6" fill="#111" stroke="#111" stroke-width="0.16">C</text>
<text x="8.80" y="583.00" font-size="12.6" fill="#111" stroke="#111" stroke-width="0.16">G</text>
<text x="270.80" y="19.60" font-size="12.6" fill="#111" stroke="#111" stroke-width="0.16">D</text>
<text x="271.00" y="234.20" font-size="12.6" fill="#111" stroke="#111" stroke-width="0.16">E</text>
<text x="270.80" y="407.00" font-size="12.6" fill="#111" stroke="#111" stroke-width="0.16">F</text>
<g fill="none" stroke-linejoin="round">
<line x1="227.80" y1="53.40" x2="227.80" y2="65.93" stroke="#2c4a80" stroke-width="0.7"/>
<line x1="226.20" y1="53.40" x2="229.40" y2="53.40" stroke="#2c4a80" stroke-width="0.7"/>
<line x1="226.20" y1="65.93" x2="229.40" y2="65.93" stroke="#2c4a80" stroke-width="0.7"/>
<line x1="161.80" y1="171.00" x2="161.80" y2="175.00" stroke="#2c4a80" stroke-width="0.6"/>
<line x1="160.40" y1="171.00" x2="163.20" y2="171.00" stroke="#2c4a80" stroke-width="0.6"/>
<polyline points="73.80,186.47 117.80,182.47 161.80,173.00 227.80,59.67" stroke="#2c4a80" stroke-width="1.15"/>
<circle cx="73.80" cy="186.47" r="1.25" fill="#2c4a80" stroke="none"/>
<circle cx="117.80" cy="182.47" r="1.25" fill="#2c4a80" stroke="none"/>
<circle cx="161.80" cy="173.00" r="1.25" fill="#2c4a80" stroke="none"/>
<circle cx="227.80" cy="59.67" r="1.25" fill="#2c4a80" stroke="none"/>
<line x1="227.80" y1="143.40" x2="227.80" y2="163.93" stroke="#a40029" stroke-width="0.7"/>
<line x1="226.20" y1="143.40" x2="229.40" y2="143.40" stroke="#a40029" stroke-width="0.7"/>
<line x1="226.20" y1="163.93" x2="229.40" y2="163.93" stroke="#a40029" stroke-width="0.7"/>
<line x1="161.80" y1="181.93" x2="161.80" y2="183.27" stroke="#a40029" stroke-width="0.6"/>
<line x1="160.40" y1="181.93" x2="163.20" y2="181.93" stroke="#a40029" stroke-width="0.6"/>
<polyline points="73.80,186.73 117.80,184.73 161.80,182.60 227.80,154.33" stroke="#a40029" stroke-width="1.15"/>
<circle cx="73.80" cy="186.73" r="1.25" fill="#a40029" stroke="none"/>
<circle cx="117.80" cy="184.73" r="1.25" fill="#a40029" stroke="none"/>
<circle cx="161.80" cy="182.60" r="1.25" fill="#a40029" stroke="none"/>
<circle cx="227.80" cy="154.33" r="1.25" fill="#a40029" stroke="none"/>
<line x1="227.80" y1="59.40" x2="227.80" y2="77.40" stroke="#6aa842" stroke-width="0.7"/>
<line x1="226.20" y1="59.40" x2="229.40" y2="59.40" stroke="#6aa842" stroke-width="0.7"/>
<line x1="226.20" y1="77.40" x2="229.40" y2="77.40" stroke="#6aa842" stroke-width="0.7"/>
<line x1="161.80" y1="172.33" x2="161.80" y2="176.33" stroke="#6aa842" stroke-width="0.6"/>
<line x1="160.40" y1="172.33" x2="163.20" y2="172.33" stroke="#6aa842" stroke-width="0.6"/>
<polyline points="73.80,186.47 117.80,182.87 161.80,174.33 227.80,68.07" stroke="#6aa842" stroke-width="1.15"/>
<circle cx="73.80" cy="186.47" r="1.25" fill="#6aa842" stroke="none"/>
<circle cx="117.80" cy="182.87" r="1.25" fill="#6aa842" stroke="none"/>
<circle cx="161.80" cy="174.33" r="1.25" fill="#6aa842" stroke="none"/>
<circle cx="227.80" cy="68.07" r="1.25" fill="#6aa842" stroke="none"/>
<line x1="227.80" y1="155.93" x2="227.80" y2="163.40" stroke="#532567" stroke-width="0.7"/>
<line x1="226.20" y1="155.93" x2="229.40" y2="155.93" stroke="#532567" stroke-width="0.7"/>
<line x1="226.20" y1="163.40" x2="229.40" y2="163.40" stroke="#532567" stroke-width="0.7"/>
<line x1="161.80" y1="182.73" x2="161.80" y2="184.07" stroke="#532567" stroke-width="0.6"/>
<line x1="160.40" y1="182.73" x2="163.20" y2="182.73" stroke="#532567" stroke-width="0.6"/>
<polyline points="73.80,186.87 117.80,185.67 161.80,183.40 227.80,159.67" stroke="#532567" stroke-width="1.15"/>
<circle cx="73.80" cy="186.87" r="1.25" fill="#532567" stroke="none"/>
<circle cx="117.80" cy="185.67" r="1.25" fill="#532567" stroke="none"/>
<circle cx="161.80" cy="183.40" r="1.25" fill="#532567" stroke="none"/>
<circle cx="227.80" cy="159.67" r="1.25" fill="#532567" stroke="none"/>
<line x1="227.80" y1="118.47" x2="227.80" y2="154.47" stroke="#dd8c18" stroke-width="0.7"/>
<line x1="226.20" y1="118.47" x2="229.40" y2="118.47" stroke="#dd8c18" stroke-width="0.7"/>
<line x1="226.20" y1="154.47" x2="229.40" y2="154.47" stroke="#dd8c18" stroke-width="0.7"/>
<line x1="161.80" y1="178.87" x2="161.80" y2="182.07" stroke="#dd8c18" stroke-width="0.6"/>
<line x1="160.40" y1="178.87" x2="163.20" y2="178.87" stroke="#dd8c18" stroke-width="0.6"/>
<polyline points="73.80,186.60 117.80,183.80 161.80,180.47 227.80,136.47" stroke="#dd8c18" stroke-width="1.15"/>
<circle cx="73.80" cy="186.60" r="1.25" fill="#dd8c18" stroke="none"/>
<circle cx="117.80" cy="183.80" r="1.25" fill="#dd8c18" stroke="none"/>
<circle cx="161.80" cy="180.47" r="1.25" fill="#dd8c18" stroke="none"/>
<circle cx="227.80" cy="136.47" r="1.25" fill="#dd8c18" stroke="none"/>
</g>
<line x1="73.80" y1="25.00" x2="73.80" y2="188.00" stroke="#050505" stroke-width="1.25"/>
<line x1="73.20" y1="187.40" x2="253.20" y2="187.40" stroke="#050505" stroke-width="1.25"/>
<line x1="70.50" y1="27.40" x2="73.80" y2="27.40" stroke="#111" stroke-width="0.9"/>
<text x="68.00" y="30.40" font-size="8.6" fill="#1a1a1a" text-anchor="end" textLength="8.8" lengthAdjust="spacingAndGlyphs" stroke="#1a1a1a" stroke-width="0.16">12</text>
<line x1="70.50" y1="67.40" x2="73.80" y2="67.40" stroke="#111" stroke-width="0.9"/>
<text x="68.00" y="70.40" font-size="8.6" fill="#1a1a1a" text-anchor="end" textLength="4.4" lengthAdjust="spacingAndGlyphs" stroke="#1a1a1a" stroke-width="0.16">9</text>
<line x1="70.50" y1="107.40" x2="73.80" y2="107.40" stroke="#111" stroke-width="0.9"/>
<text x="68.00" y="110.40" font-size="8.6" fill="#1a1a1a" text-anchor="end" textLength="4.4" lengthAdjust="spacingAndGlyphs" stroke="#1a1a1a" stroke-width="0.16">6</text>
<line x1="70.50" y1="147.40" x2="73.80" y2="147.40" stroke="#111" stroke-width="0.9"/>
<text x="68.00" y="150.40" font-size="8.6" fill="#1a1a1a" text-anchor="end" textLength="4.4" lengthAdjust="spacingAndGlyphs" stroke="#1a1a1a" stroke-width="0.16">3</text>
<line x1="70.50" y1="187.40" x2="73.80" y2="187.40" stroke="#111" stroke-width="0.9"/>
<text x="68.00" y="190.40" font-size="8.6" fill="#1a1a1a" text-anchor="end" textLength="4.4" lengthAdjust="spacingAndGlyphs" stroke="#1a1a1a" stroke-width="0.16">0</text>
<line x1="73.80" y1="187.40" x2="73.80" y2="190.80" stroke="#111" stroke-width="0.9"/>
<text x="73.80" y="202.20" font-size="8.6" fill="#1a1a1a" text-anchor="middle" textLength="4.4" lengthAdjust="spacingAndGlyphs" stroke="#1a1a1a" stroke-width="0.16">0</text>
<line x1="117.80" y1="187.40" x2="117.80" y2="190.80" stroke="#111" stroke-width="0.9"/>
<text x="117.80" y="202.20" font-size="8.6" fill="#1a1a1a" text-anchor="middle" textLength="4.4" lengthAdjust="spacingAndGlyphs" stroke="#1a1a1a" stroke-width="0.16">2</text>
<line x1="161.80" y1="187.40" x2="161.80" y2="190.80" stroke="#111" stroke-width="0.9"/>
<text x="161.80" y="202.20" font-size="8.6" fill="#1a1a1a" text-anchor="middle" textLength="4.4" lengthAdjust="spacingAndGlyphs" stroke="#1a1a1a" stroke-width="0.16">4</text>
<line x1="205.80" y1="187.40" x2="205.80" y2="190.80" stroke="#111" stroke-width="0.9"/>
<text x="205.80" y="202.20" font-size="8.6" fill="#1a1a1a" text-anchor="middle" textLength="4.4" lengthAdjust="spacingAndGlyphs" stroke="#1a1a1a" stroke-width="0.16">6</text>
<line x1="249.80" y1="187.40" x2="249.80" y2="190.80" stroke="#111" stroke-width="0.9"/>
<text x="249.80" y="202.20" font-size="8.6" fill="#1a1a1a" text-anchor="middle" textLength="4.4" lengthAdjust="spacingAndGlyphs" stroke="#1a1a1a" stroke-width="0.16">8</text>
<text x="163.40" y="217.00" font-size="9.8" fill="#1a1a1a" text-anchor="middle" textLength="22.0" lengthAdjust="spacingAndGlyphs" stroke="#1a1a1a" stroke-width="0.16">Days</text>
<text transform="translate(50.3,105.4) rotate(-90)" font-size="10" fill="#1a1a1a" stroke="#1a1a1a" stroke-width="0.22" text-anchor="middle" textLength="88.5" lengthAdjust="spacingAndGlyphs">Cell number (x 10<tspan font-size="6.4" dy="-3.5">5</tspan><tspan dy="3.5">)</tspan></text>
<line x1="77.40" y1="32.40" x2="87.00" y2="32.40" stroke="#2c4a80" stroke-width="1.1"/>
<circle cx="82.2" cy="32.40" r="1.3" fill="#2c4a80"/>
<text x="91.00" y="35.30" font-size="8.4" fill="#1a1a1a" textLength="49.5" lengthAdjust="spacingAndGlyphs" stroke="#1a1a1a" stroke-width="0.16">shCtrl + mock</text>
<line x1="77.40" y1="45.20" x2="87.00" y2="45.20" stroke="#a40029" stroke-width="1.1"/>
<circle cx="82.2" cy="45.20" r="1.3" fill="#a40029"/>
<text x="91.00" y="48.10" font-size="8.4" fill="#1a1a1a" textLength="50.5" lengthAdjust="spacingAndGlyphs" stroke="#1a1a1a" stroke-width="0.16">shp62 + mock</text>
<line x1="77.40" y1="58.00" x2="87.00" y2="58.00" stroke="#6aa842" stroke-width="1.1"/>
<circle cx="82.2" cy="58.00" r="1.3" fill="#6aa842"/>
<text x="91.00" y="60.90" font-size="8.4" fill="#1a1a1a" textLength="57.5" lengthAdjust="spacingAndGlyphs" stroke="#1a1a1a" stroke-width="0.16">shp62 + p62 WT</text>
<line x1="77.40" y1="70.80" x2="87.00" y2="70.80" stroke="#532567" stroke-width="1.1"/>
<circle cx="82.2" cy="70.80" r="1.3" fill="#532567"/>
<text x="91.00" y="73.70" font-size="8.4" fill="#1a1a1a" textLength="62.0" lengthAdjust="spacingAndGlyphs" stroke="#1a1a1a" stroke-width="0.16">shp62 + p62 ΔLIR</text>
<line x1="77.40" y1="83.60" x2="87.00" y2="83.60" stroke="#dd8c18" stroke-width="1.1"/>
<circle cx="82.2" cy="83.60" r="1.3" fill="#dd8c18"/>
<text x="91.00" y="86.50" font-size="8.4" fill="#1a1a1a" textLength="83.0" lengthAdjust="spacingAndGlyphs" stroke="#1a1a1a" stroke-width="0.16">shp62 + p62 K7A/D69A</text>
<line x1="86.40" y1="257.23" x2="86.40" y2="260.14" stroke="#111" stroke-width="0.9"/>
<line x1="81.80" y1="257.23" x2="91.00" y2="257.23" stroke="#111" stroke-width="0.9"/>
<rect x="77.00" y="259.64" width="18.80" height="73.96" fill="#2c4a80"/>
<line x1="112.50" y1="293.60" x2="112.50" y2="296.69" stroke="#111" stroke-width="0.9"/>
<line x1="107.90" y1="293.60" x2="117.10" y2="293.60" stroke="#111" stroke-width="0.9"/>
<rect x="103.10" y="296.19" width="18.80" height="37.41" fill="#a40029"/>
<line x1="138.60" y1="266.54" x2="138.60" y2="274.62" stroke="#111" stroke-width="0.9"/>
<line x1="134.00" y1="266.54" x2="143.20" y2="266.54" stroke="#111" stroke-width="0.9"/>
<rect x="129.20" y="274.12" width="18.80" height="59.48" fill="#6aa842"/>
<line x1="164.70" y1="295.33" x2="164.70" y2="298.41" stroke="#111" stroke-width="0.9"/>
<line x1="160.10" y1="295.33" x2="169.30" y2="295.33" stroke="#111" stroke-width="0.9"/>
<rect x="155.30" y="297.91" width="18.80" height="35.69" fill="#532567"/>
<line x1="190.80" y1="288.43" x2="190.80" y2="290.48" stroke="#111" stroke-width="0.9"/>
<line x1="186.20" y1="288.43" x2="195.40" y2="288.43" stroke="#111" stroke-width="0.9"/>
<rect x="181.40" y="289.98" width="18.80" height="43.62" fill="#dd8c18"/>
<line x1="74.00" y1="245.00" x2="74.00" y2="334.20" stroke="#050505" stroke-width="1.25"/>
<line x1="73.40" y1="333.60" x2="204.20" y2="333.60" stroke="#050505" stroke-width="1.3"/>
<line x1="70.60" y1="247.40" x2="74.00" y2="247.40" stroke="#111" stroke-width="0.9"/>
<text x="67.60" y="250.40" font-size="8.6" fill="#1a1a1a" text-anchor="end" textLength="13.5" lengthAdjust="spacingAndGlyphs" stroke="#1a1a1a" stroke-width="0.16">250</text>
<line x1="70.60" y1="264.64" x2="74.00" y2="264.64" stroke="#111" stroke-width="0.9"/>
<text x="67.60" y="267.64" font-size="8.6" fill="#1a1a1a" text-anchor="end" textLength="13.5" lengthAdjust="spacingAndGlyphs" stroke="#1a1a1a" stroke-width="0.16">200</text>
<line x1="70.60" y1="281.88" x2="74.00" y2="281.88" stroke="#111" stroke-width="0.9"/>
<text x="67.60" y="284.88" font-size="8.6" fill="#1a1a1a" text-anchor="end" textLength="13.5" lengthAdjust="spacingAndGlyphs" stroke="#1a1a1a" stroke-width="0.16">150</text>
<line x1="70.60" y1="299.12" x2="74.00" y2="299.12" stroke="#111" stroke-width="0.9"/>
<text x="67.60" y="302.12" font-size="8.6" fill="#1a1a1a" text-anchor="end" textLength="13.5" lengthAdjust="spacingAndGlyphs" stroke="#1a1a1a" stroke-width="0.16">100</text>
<line x1="70.60" y1="316.36" x2="74.00" y2="316.36" stroke="#111" stroke-width="0.9"/>
<text x="67.60" y="319.36" font-size="8.6" fill="#1a1a1a" text-anchor="end" textLength="9.0" lengthAdjust="spacingAndGlyphs" stroke="#1a1a1a" stroke-width="0.16">50</text>
<line x1="70.60" y1="333.60" x2="74.00" y2="333.60" stroke="#111" stroke-width="0.9"/>
<text x="67.60" y="336.60" font-size="8.6" fill="#1a1a1a" text-anchor="end" textLength="4.5" lengthAdjust="spacingAndGlyphs" stroke="#1a1a1a" stroke-width="0.16">0</text>
<line x1="86.40" y1="333.60" x2="86.40" y2="337.10" stroke="#111" stroke-width="0.9"/>
<line x1="112.50" y1="333.60" x2="112.50" y2="337.10" stroke="#111" stroke-width="0.9"/>
<line x1="138.60" y1="333.60" x2="138.60" y2="337.10" stroke="#111" stroke-width="0.9"/>
<line x1="164.70" y1="333.60" x2="164.70" y2="337.10" stroke="#111" stroke-width="0.9"/>
<line x1="190.80" y1="333.60" x2="190.80" y2="337.10" stroke="#111" stroke-width="0.9"/>
<line x1="77.00" y1="247.50" x2="200.20" y2="247.50" stroke="#111" stroke-width="0.8"/>
<text x="112.50" y="247.30" font-size="7.6" fill="#1a1a1a" text-anchor="middle" textLength="6.3" lengthAdjust="spacingAndGlyphs" stroke="#1a1a1a" stroke-width="0.16">**</text>
<text x="138.60" y="244.50" font-size="8.8" fill="#1a1a1a" text-anchor="middle" textLength="8.2" lengthAdjust="spacingAndGlyphs" stroke="#1a1a1a" stroke-width="0.16">ns</text>
<text x="164.70" y="247.30" font-size="7.6" fill="#1a1a1a" text-anchor="middle" textLength="9.4" lengthAdjust="spacingAndGlyphs" stroke="#1a1a1a" stroke-width="0.16">***</text>
<text x="190.80" y="247.30" font-size="7.6" fill="#1a1a1a" text-anchor="middle" textLength="6.3" lengthAdjust="spacingAndGlyphs" stroke="#1a1a1a" stroke-width="0.16">**</text>
<text transform="translate(83.50,341.00) rotate(-90)" font-size="8.4" fill="#1a1a1a" text-anchor="end" textLength="22.0" lengthAdjust="spacingAndGlyphs" stroke="#1a1a1a" stroke-width="0.16">shCtrl</text>
<text transform="translate(94.60,341.00) rotate(-90)" font-size="8.4" fill="#1a1a1a" text-anchor="end" textLength="27.6" lengthAdjust="spacingAndGlyphs" stroke="#1a1a1a" stroke-width="0.16">+ mock</text>
<text transform="translate(109.60,341.00) rotate(-90)" font-size="8.4" fill="#1a1a1a" text-anchor="end" textLength="22.4" lengthAdjust="spacingAndGlyphs" stroke="#1a1a1a" stroke-width="0.16">shp62</text>
<text transform="translate(120.70,341.00) rotate(-90)" font-size="8.4" fill="#1a1a1a" text-anchor="end" textLength="27.6" lengthAdjust="spacingAndGlyphs" stroke="#1a1a1a" stroke-width="0.16">+ mock</text>
<text transform="translate(135.70,341.00) rotate(-90)" font-size="8.4" fill="#1a1a1a" text-anchor="end" textLength="22.4" lengthAdjust="spacingAndGlyphs" stroke="#1a1a1a" stroke-width="0.16">shp62</text>
<text transform="translate(146.80,341.00) rotate(-90)" font-size="8.4" fill="#1a1a1a" text-anchor="end" textLength="35.0" lengthAdjust="spacingAndGlyphs" stroke="#1a1a1a" stroke-width="0.16">+ p62 WT</text>
<text transform="translate(161.80,341.00) rotate(-90)" font-size="8.4" fill="#1a1a1a" text-anchor="end" textLength="22.4" lengthAdjust="spacingAndGlyphs" stroke="#1a1a1a" stroke-width="0.16">shp62</text>
<text transform="translate(172.90,341.00) rotate(-90)" font-size="8.4" fill="#1a1a1a" text-anchor="end" textLength="39.0" lengthAdjust="spacingAndGlyphs" stroke="#1a1a1a" stroke-width="0.16">+ p62 ΔLIR</text>
<text transform="translate(187.90,341.00) rotate(-90)" font-size="8.4" fill="#1a1a1a" text-anchor="end" textLength="45.5" lengthAdjust="spacingAndGlyphs" stroke="#1a1a1a" stroke-width="0.16">shp62 + p62</text>
<text transform="translate(199.00,341.00) rotate(-90)" font-size="8.4" fill="#1a1a1a" text-anchor="end" textLength="38.5" lengthAdjust="spacingAndGlyphs" stroke="#1a1a1a" stroke-width="0.16">K7A/D69A</text>
<text transform="translate(45.4,289.3) rotate(-90)" font-size="10" fill="#1a1a1a" stroke="#1a1a1a" stroke-width="0.22" text-anchor="middle" textLength="71.4" lengthAdjust="spacingAndGlyphs">Colony number</text>
<line x1="86.40" y1="431.58" x2="86.40" y2="433.81" stroke="#111" stroke-width="0.9"/>
<line x1="81.80" y1="431.58" x2="91.00" y2="431.58" stroke="#111" stroke-width="0.9"/>
<rect x="77.00" y="433.31" width="18.80" height="75.69" fill="#2c4a80"/>
<line x1="112.50" y1="468.47" x2="112.50" y2="470.53" stroke="#111" stroke-width="0.9"/>
<line x1="107.90" y1="468.47" x2="117.10" y2="468.47" stroke="#111" stroke-width="0.9"/>
<rect x="103.10" y="470.03" width="18.80" height="38.97" fill="#a40029"/>
<line x1="138.60" y1="434.35" x2="138.60" y2="436.58" stroke="#111" stroke-width="0.9"/>
<line x1="134.00" y1="434.35" x2="143.20" y2="434.35" stroke="#111" stroke-width="0.9"/>
<rect x="129.20" y="436.08" width="18.80" height="72.92" fill="#6aa842"/>
<line x1="164.70" y1="470.38" x2="164.70" y2="471.92" stroke="#111" stroke-width="0.9"/>
<line x1="160.10" y1="470.38" x2="169.30" y2="470.38" stroke="#111" stroke-width="0.9"/>
<rect x="155.30" y="471.42" width="18.80" height="37.58" fill="#532567"/>
<line x1="190.80" y1="457.56" x2="190.80" y2="458.75" stroke="#111" stroke-width="0.9"/>
<line x1="186.20" y1="457.56" x2="195.40" y2="457.56" stroke="#111" stroke-width="0.9"/>
<rect x="181.40" y="458.25" width="18.80" height="50.75" fill="#dd8c18"/>
<line x1="74.00" y1="419.40" x2="74.00" y2="509.60" stroke="#050505" stroke-width="1.25"/>
<line x1="73.40" y1="509.00" x2="204.20" y2="509.00" stroke="#050505" stroke-width="1.3"/>
<line x1="70.60" y1="422.40" x2="74.00" y2="422.40" stroke="#111" stroke-width="0.9"/>
<text x="67.60" y="425.40" font-size="8.6" fill="#1a1a1a" text-anchor="end" textLength="4.5" lengthAdjust="spacingAndGlyphs" stroke="#1a1a1a" stroke-width="0.16">5</text>
<line x1="70.60" y1="439.72" x2="74.00" y2="439.72" stroke="#111" stroke-width="0.9"/>
<text x="67.60" y="442.72" font-size="8.6" fill="#1a1a1a" text-anchor="end" textLength="4.5" lengthAdjust="spacingAndGlyphs" stroke="#1a1a1a" stroke-width="0.16">4</text>
<line x1="70.60" y1="457.04" x2="74.00" y2="457.04" stroke="#111" stroke-width="0.9"/>
<text x="67.60" y="460.04" font-size="8.6" fill="#1a1a1a" text-anchor="end" textLength="4.5" lengthAdjust="spacingAndGlyphs" stroke="#1a1a1a" stroke-width="0.16">3</text>
<line x1="70.60" y1="474.36" x2="74.00" y2="474.36" stroke="#111" stroke-width="0.9"/>
<text x="67.60" y="477.36" font-size="8.6" fill="#1a1a1a" text-anchor="end" textLength="4.5" lengthAdjust="spacingAndGlyphs" stroke="#1a1a1a" stroke-width="0.16">2</text>
<line x1="70.60" y1="491.68" x2="74.00" y2="491.68" stroke="#111" stroke-width="0.9"/>
<text x="67.60" y="494.68" font-size="8.6" fill="#1a1a1a" text-anchor="end" textLength="4.5" lengthAdjust="spacingAndGlyphs" stroke="#1a1a1a" stroke-width="0.16">1</text>
<line x1="70.60" y1="509.00" x2="74.00" y2="509.00" stroke="#111" stroke-width="0.9"/>
<text x="67.60" y="512.00" font-size="8.6" fill="#1a1a1a" text-anchor="end" textLength="4.5" lengthAdjust="spacingAndGlyphs" stroke="#1a1a1a" stroke-width="0.16">0</text>
<line x1="86.40" y1="509.00" x2="86.40" y2="512.50" stroke="#111" stroke-width="0.9"/>
<line x1="112.50" y1="509.00" x2="112.50" y2="512.50" stroke="#111" stroke-width="0.9"/>
<line x1="138.60" y1="509.00" x2="138.60" y2="512.50" stroke="#111" stroke-width="0.9"/>
<line x1="164.70" y1="509.00" x2="164.70" y2="512.50" stroke="#111" stroke-width="0.9"/>
<line x1="190.80" y1="509.00" x2="190.80" y2="512.50" stroke="#111" stroke-width="0.9"/>
<line x1="77.00" y1="420.20" x2="200.20" y2="420.20" stroke="#111" stroke-width="0.8"/>
<text x="112.50" y="420.00" font-size="7.6" fill="#1a1a1a" text-anchor="middle" textLength="9.4" lengthAdjust="spacingAndGlyphs" stroke="#1a1a1a" stroke-width="0.16">***</text>
<text x="138.60" y="417.20" font-size="8.8" fill="#1a1a1a" text-anchor="middle" textLength="8.2" lengthAdjust="spacingAndGlyphs" stroke="#1a1a1a" stroke-width="0.16">ns</text>
<text x="164.70" y="420.00" font-size="7.6" fill="#1a1a1a" text-anchor="middle" textLength="9.4" lengthAdjust="spacingAndGlyphs" stroke="#1a1a1a" stroke-width="0.16">***</text>
<text x="190.80" y="420.00" font-size="7.6" fill="#1a1a1a" text-anchor="middle" textLength="9.4" lengthAdjust="spacingAndGlyphs" stroke="#1a1a1a" stroke-width="0.16">***</text>
<text transform="translate(83.50,516.20) rotate(-90)" font-size="8.4" fill="#1a1a1a" text-anchor="end" textLength="22.0" lengthAdjust="spacingAndGlyphs" stroke="#1a1a1a" stroke-width="0.16">shCtrl</text>
<text transform="translate(94.60,516.20) rotate(-90)" font-size="8.4" fill="#1a1a1a" text-anchor="end" textLength="27.6" lengthAdjust="spacingAndGlyphs" stroke="#1a1a1a" stroke-width="0.16">+ mock</text>
<text transform="translate(109.60,516.20) rotate(-90)" font-size="8.4" fill="#1a1a1a" text-anchor="end" textLength="22.4" lengthAdjust="spacingAndGlyphs" stroke="#1a1a1a" stroke-width="0.16">shp62</text>
<text transform="translate(120.70,516.20) rotate(-90)" font-size="8.4" fill="#1a1a1a" text-anchor="end" textLength="27.6" lengthAdjust="spacingAndGlyphs" stroke="#1a1a1a" stroke-width="0.16">+ mock</text>
<text transform="translate(135.70,516.20) rotate(-90)" font-size="8.4" fill="#1a1a1a" text-anchor="end" textLength="22.4" lengthAdjust="spacingAndGlyphs" stroke="#1a1a1a" stroke-width="0.16">shp62</text>
<text transform="translate(146.80,516.20) rotate(-90)" font-size="8.4" fill="#1a1a1a" text-anchor="end" textLength="35.0" lengthAdjust="spacingAndGlyphs" stroke="#1a1a1a" stroke-width="0.16">+ p62 WT</text>
<text transform="translate(161.80,516.20) rotate(-90)" font-size="8.4" fill="#1a1a1a" text-anchor="end" textLength="22.4" lengthAdjust="spacingAndGlyphs" stroke="#1a1a1a" stroke-width="0.16">shp62</text>
<text transform="translate(172.90,516.20) rotate(-90)" font-size="8.4" fill="#1a1a1a" text-anchor="end" textLength="39.0" lengthAdjust="spacingAndGlyphs" stroke="#1a1a1a" stroke-width="0.16">+ p62 ΔLIR</text>
<text transform="translate(187.90,516.20) rotate(-90)" font-size="8.4" fill="#1a1a1a" text-anchor="end" textLength="45.5" lengthAdjust="spacingAndGlyphs" stroke="#1a1a1a" stroke-width="0.16">shp62 + p62</text>
<text transform="translate(199.00,516.20) rotate(-90)" font-size="8.4" fill="#1a1a1a" text-anchor="end" textLength="38.5" lengthAdjust="spacingAndGlyphs" stroke="#1a1a1a" stroke-width="0.16">K7A/D69A</text>
<text transform="translate(54.6,464.0) rotate(-90)" font-size="10" fill="#1a1a1a" stroke="#1a1a1a" stroke-width="0.22" text-anchor="middle" textLength="88.0" lengthAdjust="spacingAndGlyphs">Cell number (x 10<tspan font-size="6.4" dy="-3.5">6</tspan><tspan dy="3.5">)</tspan></text>
<line x1="86.80" y1="610.38" x2="86.80" y2="612.95" stroke="#111" stroke-width="0.9"/>
<line x1="82.20" y1="610.38" x2="91.40" y2="610.38" stroke="#111" stroke-width="0.9"/>
<rect x="77.40" y="612.45" width="18.80" height="70.15" fill="#2c4a80"/>
<line x1="112.90" y1="631.25" x2="112.90" y2="635.04" stroke="#111" stroke-width="0.9"/>
<line x1="108.30" y1="631.25" x2="117.50" y2="631.25" stroke="#111" stroke-width="0.9"/>
<rect x="103.50" y="634.54" width="18.80" height="48.06" fill="#a40029"/>
<line x1="139.00" y1="610.12" x2="139.00" y2="612.69" stroke="#111" stroke-width="0.9"/>
<line x1="134.40" y1="610.12" x2="143.60" y2="610.12" stroke="#111" stroke-width="0.9"/>
<rect x="129.60" y="612.19" width="18.80" height="70.41" fill="#6aa842"/>
<line x1="165.10" y1="629.95" x2="165.10" y2="633.56" stroke="#111" stroke-width="0.9"/>
<line x1="160.50" y1="629.95" x2="169.70" y2="629.95" stroke="#111" stroke-width="0.9"/>
<rect x="155.70" y="633.06" width="18.80" height="49.54" fill="#532567"/>
<line x1="191.20" y1="614.01" x2="191.20" y2="616.76" stroke="#111" stroke-width="0.9"/>
<line x1="186.60" y1="614.01" x2="195.80" y2="614.01" stroke="#111" stroke-width="0.9"/>
<rect x="181.80" y="616.26" width="18.80" height="66.34" fill="#dd8c18"/>
<line x1="74.00" y1="592.60" x2="74.00" y2="683.20" stroke="#050505" stroke-width="1.25"/>
<line x1="73.40" y1="682.60" x2="204.40" y2="682.60" stroke="#050505" stroke-width="1.3"/>
<line x1="70.60" y1="596.00" x2="74.00" y2="596.00" stroke="#111" stroke-width="0.9"/>
<text x="67.60" y="599.00" font-size="8.6" fill="#1a1a1a" text-anchor="end" textLength="13.5" lengthAdjust="spacingAndGlyphs" stroke="#1a1a1a" stroke-width="0.16">100</text>
<line x1="70.60" y1="613.32" x2="74.00" y2="613.32" stroke="#111" stroke-width="0.9"/>
<text x="67.60" y="616.32" font-size="8.6" fill="#1a1a1a" text-anchor="end" textLength="9.0" lengthAdjust="spacingAndGlyphs" stroke="#1a1a1a" stroke-width="0.16">80</text>
<line x1="70.60" y1="630.64" x2="74.00" y2="630.64" stroke="#111" stroke-width="0.9"/>
<text x="67.60" y="633.64" font-size="8.6" fill="#1a1a1a" text-anchor="end" textLength="9.0" lengthAdjust="spacingAndGlyphs" stroke="#1a1a1a" stroke-width="0.16">60</text>
<line x1="70.60" y1="647.96" x2="74.00" y2="647.96" stroke="#111" stroke-width="0.9"/>
<text x="67.60" y="650.96" font-size="8.6" fill="#1a1a1a" text-anchor="end" textLength="9.0" lengthAdjust="spacingAndGlyphs" stroke="#1a1a1a" stroke-width="0.16">40</text>
<line x1="70.60" y1="665.28" x2="74.00" y2="665.28" stroke="#111" stroke-width="0.9"/>
<text x="67.60" y="668.28" font-size="8.6" fill="#1a1a1a" text-anchor="end" textLength="9.0" lengthAdjust="spacingAndGlyphs" stroke="#1a1a1a" stroke-width="0.16">20</text>
<line x1="70.60" y1="682.60" x2="74.00" y2="682.60" stroke="#111" stroke-width="0.9"/>
<text x="67.60" y="685.60" font-size="8.6" fill="#1a1a1a" text-anchor="end" textLength="4.5" lengthAdjust="spacingAndGlyphs" stroke="#1a1a1a" stroke-width="0.16">0</text>
<line x1="86.80" y1="682.60" x2="86.80" y2="686.10" stroke="#111" stroke-width="0.9"/>
<line x1="112.90" y1="682.60" x2="112.90" y2="686.10" stroke="#111" stroke-width="0.9"/>
<line x1="139.00" y1="682.60" x2="139.00" y2="686.10" stroke="#111" stroke-width="0.9"/>
<line x1="165.10" y1="682.60" x2="165.10" y2="686.10" stroke="#111" stroke-width="0.9"/>
<line x1="191.20" y1="682.60" x2="191.20" y2="686.10" stroke="#111" stroke-width="0.9"/>
<line x1="78.00" y1="596.00" x2="200.60" y2="596.00" stroke="#111" stroke-width="0.8"/>
<text x="112.90" y="595.80" font-size="7.6" fill="#1a1a1a" text-anchor="middle" textLength="9.4" lengthAdjust="spacingAndGlyphs" stroke="#1a1a1a" stroke-width="0.16">***</text>
<text x="139.00" y="593.00" font-size="8.8" fill="#1a1a1a" text-anchor="middle" textLength="8.2" lengthAdjust="spacingAndGlyphs" stroke="#1a1a1a" stroke-width="0.16">ns</text>
<text x="165.10" y="595.80" font-size="7.6" fill="#1a1a1a" text-anchor="middle" textLength="9.4" lengthAdjust="spacingAndGlyphs" stroke="#1a1a1a" stroke-width="0.16">***</text>
<text x="191.20" y="593.00" font-size="8.8" fill="#1a1a1a" text-anchor="middle" textLength="8.2" lengthAdjust="spacingAndGlyphs" stroke="#1a1a1a" stroke-width="0.16">ns</text>
<text transform="translate(83.90,689.60) rotate(-90)" font-size="8.4" fill="#1a1a1a" text-anchor="end" textLength="22.0" lengthAdjust="spacingAndGlyphs" stroke="#1a1a1a" stroke-width="0.16">shCtrl</text>
<text transform="translate(95.00,689.60) rotate(-90)" font-size="8.4" fill="#1a1a1a" text-anchor="end" textLength="27.6" lengthAdjust="spacingAndGlyphs" stroke="#1a1a1a" stroke-width="0.16">+ mock</text>
<text transform="translate(110.00,689.60) rotate(-90)" font-size="8.4" fill="#1a1a1a" text-anchor="end" textLength="22.4" lengthAdjust="spacingAndGlyphs" stroke="#1a1a1a" stroke-width="0.16">shp62</text>
<text transform="translate(121.10,689.60) rotate(-90)" font-size="8.4" fill="#1a1a1a" text-anchor="end" textLength="27.6" lengthAdjust="spacingAndGlyphs" stroke="#1a1a1a" stroke-width="0.16">+ mock</text>
<text transform="translate(136.10,689.60) rotate(-90)" font-size="8.4" fill="#1a1a1a" text-anchor="end" textLength="22.4" lengthAdjust="spacingAndGlyphs" stroke="#1a1a1a" stroke-width="0.16">shp62</text>
<text transform="translate(147.20,689.60) rotate(-90)" font-size="8.4" fill="#1a1a1a" text-anchor="end" textLength="35.0" lengthAdjust="spacingAndGlyphs" stroke="#1a1a1a" stroke-width="0.16">+ p62 WT</text>
<text transform="translate(162.20,689.60) rotate(-90)" font-size="8.4" fill="#1a1a1a" text-anchor="end" textLength="22.4" lengthAdjust="spacingAndGlyphs" stroke="#1a1a1a" stroke-width="0.16">shp62</text>
<text transform="translate(173.30,689.60) rotate(-90)" font-size="8.4" fill="#1a1a1a" text-anchor="end" textLength="39.0" lengthAdjust="spacingAndGlyphs" stroke="#1a1a1a" stroke-width="0.16">+ p62 ΔLIR</text>
<text transform="translate(188.30,689.60) rotate(-90)" font-size="8.4" fill="#1a1a1a" text-anchor="end" textLength="45.5" lengthAdjust="spacingAndGlyphs" stroke="#1a1a1a" stroke-width="0.16">shp62 + p62</text>
<text transform="translate(199.40,689.60) rotate(-90)" font-size="8.4" fill="#1a1a1a" text-anchor="end" textLength="38.5" lengthAdjust="spacingAndGlyphs" stroke="#1a1a1a" stroke-width="0.16">K7A/D69A</text>
<text transform="translate(31.6,637.8) rotate(-90)" font-size="10" fill="#1a1a1a" stroke="#1a1a1a" stroke-width="0.22" text-anchor="middle" textLength="61.6" lengthAdjust="spacingAndGlyphs">%LC3/Tom20</text>
<text transform="translate(45.0,637.8) rotate(-90)" font-size="10" fill="#1a1a1a" stroke="#1a1a1a" stroke-width="0.22" text-anchor="middle" textLength="63.4" lengthAdjust="spacingAndGlyphs">colocalization</text>
<line x1="346.40" y1="304.34" x2="346.40" y2="310.02" stroke="#111" stroke-width="0.9"/>
<line x1="341.80" y1="304.34" x2="351.00" y2="304.34" stroke="#111" stroke-width="0.9"/>
<rect x="337.00" y="309.52" width="18.80" height="24.48" fill="#2c4a80"/>
<line x1="372.40" y1="264.88" x2="372.40" y2="269.99" stroke="#111" stroke-width="0.9"/>
<line x1="367.80" y1="264.88" x2="377.00" y2="264.88" stroke="#111" stroke-width="0.9"/>
<rect x="363.00" y="269.49" width="18.80" height="64.51" fill="#a40029"/>
<line x1="398.40" y1="311.25" x2="398.40" y2="315.49" stroke="#111" stroke-width="0.9"/>
<line x1="393.80" y1="311.25" x2="403.00" y2="311.25" stroke="#111" stroke-width="0.9"/>
<rect x="389.00" y="314.99" width="18.80" height="19.01" fill="#6aa842"/>
<line x1="424.40" y1="256.82" x2="424.40" y2="264.23" stroke="#111" stroke-width="0.9"/>
<line x1="419.80" y1="256.82" x2="429.00" y2="256.82" stroke="#111" stroke-width="0.9"/>
<rect x="415.00" y="263.73" width="18.80" height="70.27" fill="#532567"/>
<line x1="450.40" y1="251.92" x2="450.40" y2="265.38" stroke="#111" stroke-width="0.9"/>
<line x1="445.80" y1="251.92" x2="455.00" y2="251.92" stroke="#111" stroke-width="0.9"/>
<rect x="441.00" y="264.88" width="18.80" height="69.12" fill="#dd8c18"/>
<line x1="333.60" y1="244.60" x2="333.60" y2="334.60" stroke="#050505" stroke-width="1.25"/>
<line x1="333.00" y1="334.00" x2="464.00" y2="334.00" stroke="#050505" stroke-width="1.3"/>
<line x1="330.20" y1="247.60" x2="333.60" y2="247.60" stroke="#111" stroke-width="0.9"/>
<text x="327.20" y="250.60" font-size="8.6" fill="#1a1a1a" text-anchor="end" textLength="13.5" lengthAdjust="spacingAndGlyphs" stroke="#1a1a1a" stroke-width="0.16">150</text>
<line x1="330.20" y1="276.40" x2="333.60" y2="276.40" stroke="#111" stroke-width="0.9"/>
<text x="327.20" y="279.40" font-size="8.6" fill="#1a1a1a" text-anchor="end" textLength="13.5" lengthAdjust="spacingAndGlyphs" stroke="#1a1a1a" stroke-width="0.16">100</text>
<line x1="330.20" y1="305.20" x2="333.60" y2="305.20" stroke="#111" stroke-width="0.9"/>
<text x="327.20" y="308.20" font-size="8.6" fill="#1a1a1a" text-anchor="end" textLength="9.0" lengthAdjust="spacingAndGlyphs" stroke="#1a1a1a" stroke-width="0.16">50</text>
<line x1="330.20" y1="334.00" x2="333.60" y2="334.00" stroke="#111" stroke-width="0.9"/>
<text x="327.20" y="337.00" font-size="8.6" fill="#1a1a1a" text-anchor="end" textLength="4.5" lengthAdjust="spacingAndGlyphs" stroke="#1a1a1a" stroke-width="0.16">0</text>
<line x1="346.40" y1="334.00" x2="346.40" y2="337.50" stroke="#111" stroke-width="0.9"/>
<line x1="372.40" y1="334.00" x2="372.40" y2="337.50" stroke="#111" stroke-width="0.9"/>
<line x1="398.40" y1="334.00" x2="398.40" y2="337.50" stroke="#111" stroke-width="0.9"/>
<line x1="424.40" y1="334.00" x2="424.40" y2="337.50" stroke="#111" stroke-width="0.9"/>
<line x1="450.40" y1="334.00" x2="450.40" y2="337.50" stroke="#111" stroke-width="0.9"/>
<line x1="338.00" y1="247.60" x2="459.80" y2="247.60" stroke="#111" stroke-width="0.8"/>
<text x="371.20" y="247.40" font-size="7.6" fill="#1a1a1a" text-anchor="middle" textLength="6.3" lengthAdjust="spacingAndGlyphs" stroke="#1a1a1a" stroke-width="0.16">**</text>
<text x="397.20" y="244.60" font-size="8.8" fill="#1a1a1a" text-anchor="middle" textLength="8.2" lengthAdjust="spacingAndGlyphs" stroke="#1a1a1a" stroke-width="0.16">ns</text>
<text x="423.20" y="247.40" font-size="7.6" fill="#1a1a1a" text-anchor="middle" textLength="6.3" lengthAdjust="spacingAndGlyphs" stroke="#1a1a1a" stroke-width="0.16">**</text>
<text x="449.20" y="247.40" font-size="7.6" fill="#1a1a1a" text-anchor="middle" textLength="3.1" lengthAdjust="spacingAndGlyphs" stroke="#1a1a1a" stroke-width="0.16">*</text>
<text transform="translate(343.50,341.20) rotate(-90)" font-size="8.4" fill="#1a1a1a" text-anchor="end" textLength="22.0" lengthAdjust="spacingAndGlyphs" stroke="#1a1a1a" stroke-width="0.16">shCtrl</text>
<text transform="translate(354.60,341.20) rotate(-90)" font-size="8.4" fill="#1a1a1a" text-anchor="end" textLength="27.6" lengthAdjust="spacingAndGlyphs" stroke="#1a1a1a" stroke-width="0.16">+ mock</text>
<text transform="translate(369.50,341.20) rotate(-90)" font-size="8.4" fill="#1a1a1a" text-anchor="end" textLength="22.4" lengthAdjust="spacingAndGlyphs" stroke="#1a1a1a" stroke-width="0.16">shp62</text>
<text transform="translate(380.60,341.20) rotate(-90)" font-size="8.4" fill="#1a1a1a" text-anchor="end" textLength="27.6" lengthAdjust="spacingAndGlyphs" stroke="#1a1a1a" stroke-width="0.16">+ mock</text>
<text transform="translate(395.50,341.20) rotate(-90)" font-size="8.4" fill="#1a1a1a" text-anchor="end" textLength="22.4" lengthAdjust="spacingAndGlyphs" stroke="#1a1a1a" stroke-width="0.16">shp62</text>
<text transform="translate(406.60,341.20) rotate(-90)" font-size="8.4" fill="#1a1a1a" text-anchor="end" textLength="35.0" lengthAdjust="spacingAndGlyphs" stroke="#1a1a1a" stroke-width="0.16">+ p62 WT</text>
<text transform="translate(421.50,341.20) rotate(-90)" font-size="8.4" fill="#1a1a1a" text-anchor="end" textLength="22.4" lengthAdjust="spacingAndGlyphs" stroke="#1a1a1a" stroke-width="0.16">shp62</text>
<text transform="translate(432.60,341.20) rotate(-90)" font-size="8.4" fill="#1a1a1a" text-anchor="end" textLength="39.0" lengthAdjust="spacingAndGlyphs" stroke="#1a1a1a" stroke-width="0.16">+ p62 ΔLIR</text>
<text transform="translate(447.50,341.20) rotate(-90)" font-size="8.4" fill="#1a1a1a" text-anchor="end" textLength="45.5" lengthAdjust="spacingAndGlyphs" stroke="#1a1a1a" stroke-width="0.16">shp62 + p62</text>
<text transform="translate(458.60,341.20) rotate(-90)" font-size="8.4" fill="#1a1a1a" text-anchor="end" textLength="38.5" lengthAdjust="spacingAndGlyphs" stroke="#1a1a1a" stroke-width="0.16">K7A/D69A</text>
<text transform="translate(293.2,289.5) rotate(-90)" font-size="10" fill="#1a1a1a" stroke="#1a1a1a" stroke-width="0.22" text-anchor="middle" textLength="111.0" lengthAdjust="spacingAndGlyphs">%COXIV remaining after</text>
<text transform="translate(304.4,289.2) rotate(-90)" font-size="10" fill="#1a1a1a" stroke="#1a1a1a" stroke-width="0.22" text-anchor="middle" textLength="66.4" lengthAdjust="spacingAndGlyphs">DFP treatment</text>
<text x="350.00" y="66.40" font-size="8.4" fill="#1a1a1a" text-anchor="middle" textLength="22.0" lengthAdjust="spacingAndGlyphs" stroke="#1a1a1a" stroke-width="0.16">shCtrl</text>
<text x="426.60" y="66.00" font-size="8.4" fill="#1a1a1a" text-anchor="middle" textLength="23.0" lengthAdjust="spacingAndGlyphs" stroke="#1a1a1a" stroke-width="0.16">shp62</text>
<line x1="337.00" y1="72.00" x2="361.60" y2="72.00" stroke="#5e5e5e" stroke-width="1.6"/>
<line x1="364.60" y1="72.00" x2="476.00" y2="72.00" stroke="#5e5e5e" stroke-width="1.6"/>
<line x1="337.00" y1="118.80" x2="361.60" y2="118.80" stroke="#5e5e5e" stroke-width="1.6"/>
<line x1="365.60" y1="118.80" x2="390.20" y2="118.80" stroke="#5e5e5e" stroke-width="1.6"/>
<line x1="394.20" y1="118.80" x2="418.80" y2="118.80" stroke="#5e5e5e" stroke-width="1.6"/>
<line x1="422.80" y1="118.80" x2="447.40" y2="118.80" stroke="#5e5e5e" stroke-width="1.6"/>
<line x1="451.40" y1="118.80" x2="476.00" y2="118.80" stroke="#5e5e5e" stroke-width="1.6"/>
<text transform="translate(348.00,113.40) rotate(-45)" font-size="8.4" fill="#1a1a1a" textLength="28.5" lengthAdjust="spacingAndGlyphs" stroke="#1a1a1a" stroke-width="0.16">+ mock</text>
<text transform="translate(376.60,113.40) rotate(-45)" font-size="8.4" fill="#1a1a1a" textLength="28.5" lengthAdjust="spacingAndGlyphs" stroke="#1a1a1a" stroke-width="0.16">+ mock</text>
<text transform="translate(406.00,112.60) rotate(-45)" font-size="8.4" fill="#1a1a1a" textLength="36.0" lengthAdjust="spacingAndGlyphs" stroke="#1a1a1a" stroke-width="0.16">+ p62 WT</text>
<text transform="translate(435.00,112.40) rotate(-45)" font-size="8.4" fill="#1a1a1a" textLength="41.0" lengthAdjust="spacingAndGlyphs" stroke="#1a1a1a" stroke-width="0.16">+ p62 ΔLIR</text>
<text transform="translate(467.40,99.00) rotate(-45)" font-size="8.4" fill="#1a1a1a" textLength="22.0" lengthAdjust="spacingAndGlyphs" stroke="#1a1a1a" stroke-width="0.16">+ p62</text>
<text transform="translate(467.60,113.60) rotate(-45)" font-size="8.4" fill="#1a1a1a" textLength="41.0" lengthAdjust="spacingAndGlyphs" stroke="#1a1a1a" stroke-width="0.16">K7A/D69A</text>
<text x="299.00" y="130.00" font-size="8.4" fill="#1a1a1a" textLength="27.0" lengthAdjust="spacingAndGlyphs" stroke="#1a1a1a" stroke-width="0.16">DFP (h)</text>
<text x="341.50" y="130.00" font-size="8.2" fill="#1a1a1a" text-anchor="middle" textLength="4.0" lengthAdjust="spacingAndGlyphs" stroke="#1a1a1a" stroke-width="0.16">0</text>
<text x="355.77" y="130.00" font-size="8.2" fill="#1a1a1a" text-anchor="middle" textLength="8.2" lengthAdjust="spacingAndGlyphs" stroke="#1a1a1a" stroke-width="0.16">12</text>
<text x="370.04" y="130.00" font-size="8.2" fill="#1a1a1a" text-anchor="middle" textLength="4.0" lengthAdjust="spacingAndGlyphs" stroke="#1a1a1a" stroke-width="0.16">0</text>
<text x="384.31" y="130.00" font-size="8.2" fill="#1a1a1a" text-anchor="middle" textLength="8.2" lengthAdjust="spacingAndGlyphs" stroke="#1a1a1a" stroke-width="0.16">12</text>
<text x="398.58" y="130.00" font-size="8.2" fill="#1a1a1a" text-anchor="middle" textLength="4.0" lengthAdjust="spacingAndGlyphs" stroke="#1a1a1a" stroke-width="0.16">0</text>
<text x="412.85" y="130.00" font-size="8.2" fill="#1a1a1a" text-anchor="middle" textLength="8.2" lengthAdjust="spacingAndGlyphs" stroke="#1a1a1a" stroke-width="0.16">12</text>
<text x="427.12" y="130.00" font-size="8.2" fill="#1a1a1a" text-anchor="middle" textLength="4.0" lengthAdjust="spacingAndGlyphs" stroke="#1a1a1a" stroke-width="0.16">0</text>
<text x="441.39" y="130.00" font-size="8.2" fill="#1a1a1a" text-anchor="middle" textLength="8.2" lengthAdjust="spacingAndGlyphs" stroke="#1a1a1a" stroke-width="0.16">12</text>
<text x="455.66" y="130.00" font-size="8.2" fill="#1a1a1a" text-anchor="middle" textLength="4.0" lengthAdjust="spacingAndGlyphs" stroke="#1a1a1a" stroke-width="0.16">0</text>
<text x="469.93" y="130.00" font-size="8.2" fill="#1a1a1a" text-anchor="middle" textLength="8.2" lengthAdjust="spacingAndGlyphs" stroke="#1a1a1a" stroke-width="0.16">12</text>
<rect x="333.50" y="135.00" width="146.50" height="13.40" fill="#fff"/>
<g filter="url(#bl2)">
<rect x="423.2" y="138.2" width="24.6" height="3.6" rx="1.2" fill="#9a9a9a"/>
<rect x="451.2" y="137.2" width="25.4" height="4.0" rx="1.2" fill="#8c8c8c"/>
</g>
<g filter="url(#bl1)">
<rect x="336.10" y="139.39" width="10.80" height="2.82" rx="1.41" fill="rgb(130,130,130)"/>
<rect x="350.07" y="138.96" width="11.40" height="3.78" rx="1.89" fill="rgb(48,48,48)"/>
<rect x="365.64" y="140.79" width="8.80" height="1.32" rx="0.66" fill="rgb(197,197,197)"/>
<rect x="379.71" y="140.69" width="9.20" height="1.32" rx="0.66" fill="rgb(197,197,197)"/>
<rect x="392.88" y="139.48" width="11.40" height="4.05" rx="2.02" fill="rgb(34,34,34)"/>
<rect x="407.85" y="140.30" width="10.00" height="2.90" rx="1.45" fill="rgb(67,67,67)"/>
<rect x="420.72" y="141.18" width="12.80" height="4.05" rx="2.02" fill="rgb(22,22,22)"/>
<rect x="434.99" y="141.18" width="12.80" height="4.05" rx="2.02" fill="rgb(22,22,22)"/>
<rect x="448.96" y="140.62" width="13.40" height="4.66" rx="2.33" fill="rgb(15,15,15)"/>
<rect x="463.33" y="140.71" width="13.20" height="4.58" rx="2.29" fill="rgb(15,15,15)"/>
<rect x="432" y="141.6" width="8" height="3.2" fill="#1c1c1c"/>
<rect x="460" y="141.2" width="8" height="3.6" fill="#161616"/>
</g>
<rect x="333.50" y="135.00" width="146.50" height="13.40" fill="none" stroke="#0c0c0c" stroke-width="1.35"/>
<rect x="333.50" y="153.00" width="146.50" height="13.20" fill="#fff"/>
<g filter="url(#bl1)">
<rect x="336.10" y="158.12" width="10.80" height="3.26" rx="1.63" fill="rgb(31,31,31)"/>
<rect x="351.17" y="159.33" width="9.20" height="1.85" rx="0.92" fill="rgb(154,154,154)"/>
<rect x="364.64" y="158.42" width="10.80" height="3.17" rx="1.58" fill="rgb(27,27,27)"/>
<rect x="378.31" y="158.15" width="12.00" height="3.61" rx="1.80" fill="rgb(22,22,22)"/>
<rect x="393.38" y="158.59" width="10.40" height="2.73" rx="1.36" fill="rgb(34,34,34)"/>
<rect x="408.55" y="159.44" width="8.60" height="2.02" rx="1.01" fill="rgb(123,123,123)"/>
<rect x="421.32" y="158.44" width="11.60" height="3.52" rx="1.76" fill="rgb(24,24,24)"/>
<rect x="435.19" y="157.62" width="12.40" height="4.66" rx="2.33" fill="rgb(15,15,15)"/>
<rect x="449.86" y="158.15" width="11.60" height="3.61" rx="1.80" fill="rgb(24,24,24)"/>
<rect x="464.33" y="158.41" width="11.20" height="3.08" rx="1.54" fill="rgb(31,31,31)"/>
</g>
<rect x="333.50" y="153.00" width="146.50" height="13.20" fill="none" stroke="#0c0c0c" stroke-width="1.35"/>
<rect x="333.50" y="171.00" width="146.50" height="13.20" fill="#fff"/>
<g filter="url(#bl1)">
<path d="M337.10 176.95 Q341.50 177.90 345.90 176.95" fill="none" stroke="rgb(22,22,22)" stroke-width="3.27" stroke-linecap="round"/>
<path d="M351.37 176.95 Q355.77 177.90 360.17 176.95" fill="none" stroke="rgb(22,22,22)" stroke-width="3.27" stroke-linecap="round"/>
<path d="M365.64 176.95 Q370.04 177.90 374.44 176.95" fill="none" stroke="rgb(22,22,22)" stroke-width="3.27" stroke-linecap="round"/>
<path d="M379.91 176.95 Q384.31 177.90 388.71 176.95" fill="none" stroke="rgb(22,22,22)" stroke-width="3.27" stroke-linecap="round"/>
<path d="M394.18 176.95 Q398.58 177.90 402.98 176.95" fill="none" stroke="rgb(22,22,22)" stroke-width="3.27" stroke-linecap="round"/>
<path d="M408.45 176.95 Q412.85 177.90 417.25 176.95" fill="none" stroke="rgb(22,22,22)" stroke-width="3.27" stroke-linecap="round"/>
<path d="M422.72 176.95 Q427.12 177.90 431.52 176.95" fill="none" stroke="rgb(22,22,22)" stroke-width="3.27" stroke-linecap="round"/>
<path d="M436.99 176.95 Q441.39 177.90 445.79 176.95" fill="none" stroke="rgb(22,22,22)" stroke-width="3.27" stroke-linecap="round"/>
<path d="M451.26 176.95 Q455.66 177.90 460.06 176.95" fill="none" stroke="rgb(22,22,22)" stroke-width="3.27" stroke-linecap="round"/>
<path d="M465.53 176.95 Q469.93 177.90 474.33 176.95" fill="none" stroke="rgb(22,22,22)" stroke-width="3.27" stroke-linecap="round"/>
</g>
<rect x="333.50" y="171.00" width="146.50" height="13.20" fill="none" stroke="#0c0c0c" stroke-width="1.35"/>
<line x1="330.40" y1="143.60" x2="333.50" y2="143.60" stroke="#111" stroke-width="0.9"/>
<line x1="330.40" y1="160.40" x2="333.50" y2="160.40" stroke="#111" stroke-width="0.9"/>
<line x1="330.40" y1="178.60" x2="333.50" y2="178.60" stroke="#111" stroke-width="0.9"/>
<text x="326.20" y="146.60" font-size="8.4" fill="#1a1a1a" text-anchor="end" textLength="25.8" lengthAdjust="spacingAndGlyphs" stroke="#1a1a1a" stroke-width="0.16">55 kDa</text>
<text x="326.20" y="163.20" font-size="8.4" fill="#1a1a1a" text-anchor="end" textLength="25.8" lengthAdjust="spacingAndGlyphs" stroke="#1a1a1a" stroke-width="0.16">15 kDa</text>
<text x="326.20" y="181.60" font-size="8.4" fill="#1a1a1a" text-anchor="end" textLength="25.8" lengthAdjust="spacingAndGlyphs" stroke="#1a1a1a" stroke-width="0.16">40 kDa</text>
<text x="483.80" y="143.80" font-size="8.4" fill="#1a1a1a" textLength="13.6" lengthAdjust="spacingAndGlyphs" stroke="#1a1a1a" stroke-width="0.16">p62</text>
<text x="483.80" y="163.00" font-size="8.4" fill="#1a1a1a" textLength="23.4" lengthAdjust="spacingAndGlyphs" stroke="#1a1a1a" stroke-width="0.16">COXIV</text>
<text x="483.80" y="180.20" font-size="8.4" fill="#1a1a1a" textLength="27.2" lengthAdjust="spacingAndGlyphs" stroke="#1a1a1a" stroke-width="0.16">β-actin</text>
<svg x="305.50" y="411.00" width="46.30" height="46.00" viewBox="0 0 46.30 46.00">
<rect x="0" y="0" width="46.30" height="46.00" fill="#000"/>
<use href="#h0"/><use href="#b0"/>
</svg>
<svg x="355.10" y="411.00" width="46.30" height="46.00" viewBox="0 0 46.30 46.00">
<rect x="0" y="0" width="46.30" height="46.00" fill="#000"/>
<use href="#r0" color="#da1010"/><use href="#a0"/>
</svg>
<svg x="404.40" y="411.00" width="46.30" height="46.00" viewBox="0 0 46.30 46.00">
<rect x="0" y="0" width="46.30" height="46.00" fill="#000"/>
<use href="#g0" color="#1ccc1c"/><use href="#a0"/>
</svg>
<svg x="453.90" y="411.00" width="46.30" height="46.00" viewBox="0 0 46.30 46.00">
<rect x="0" y="0" width="46.30" height="46.00" fill="#000"/>
<use href="#h0"/><use href="#b0"/><g style="mix-blend-mode:screen"><use href="#r0" color="#d41858"/></g><use href="#g0" color="#30e070"/><use href="#a0"/>
</svg>
<svg x="305.50" y="463.30" width="46.30" height="46.00" viewBox="0 0 46.30 46.00">
<rect x="0" y="0" width="46.30" height="46.00" fill="#000"/>
<use href="#h1"/><use href="#b1"/>
</svg>
<svg x="355.10" y="463.30" width="46.30" height="46.00" viewBox="0 0 46.30 46.00">
<rect x="0" y="0" width="46.30" height="46.00" fill="#000"/>
<use href="#r1" color="#da1010"/><use href="#a1"/>
</svg>
<svg x="404.40" y="463.30" width="46.30" height="46.00" viewBox="0 0 46.30 46.00">
<rect x="0" y="0" width="46.30" height="46.00" fill="#000"/>
<use href="#g1" color="#1ccc1c"/><use href="#a1"/>
</svg>
<svg x="453.90" y="463.30" width="46.30" height="46.00" viewBox="0 0 46.30 46.00">
<rect x="0" y="0" width="46.30" height="46.00" fill="#000"/>
<use href="#h1"/><use href="#b1"/><g style="mix-blend-mode:screen"><use href="#r1" color="#d41858"/></g><use href="#g1" color="#30e070"/><use href="#a1"/>
</svg>
<svg x="305.50" y="515.70" width="46.30" height="46.00" viewBox="0 0 46.30 46.00">
<rect x="0" y="0" width="46.30" height="46.00" fill="#000"/>
<use href="#h2"/><use href="#b2"/>
</svg>
<svg x="355.10" y="515.70" width="46.30" height="46.00" viewBox="0 0 46.30 46.00">
<rect x="0" y="0" width="46.30" height="46.00" fill="#000"/>
<use href="#r2" color="#da1010"/><use href="#a2"/>
</svg>
<svg x="404.40" y="515.70" width="46.30" height="46.00" viewBox="0 0 46.30 46.00">
<rect x="0" y="0" width="46.30" height="46.00" fill="#000"/>
<use href="#g2" color="#1ccc1c"/><use href="#a2"/>
</svg>
<svg x="453.90" y="515.70" width="46.30" height="46.00" viewBox="0 0 46.30 46.00">
<rect x="0" y="0" width="46.30" height="46.00" fill="#000"/>
<use href="#h2"/><use href="#b2"/><g style="mix-blend-mode:screen"><use href="#r2" color="#d41858"/></g><use href="#g2" color="#30e070"/><use href="#a2"/>
</svg>
<svg x="305.50" y="567.60" width="46.30" height="46.00" viewBox="0 0 46.30 46.00">
<rect x="0" y="0" width="46.30" height="46.00" fill="#000"/>
<use href="#h3"/><use href="#b3"/>
</svg>
<svg x="355.10" y="567.60" width="46.30" height="46.00" viewBox="0 0 46.30 46.00">
<rect x="0" y="0" width="46.30" height="46.00" fill="#000"/>
<use href="#r3" color="#da1010"/><use href="#a3"/>
</svg>
<svg x="404.40" y="567.60" width="46.30" height="46.00" viewBox="0 0 46.30 46.00">
<rect x="0" y="0" width="46.30" height="46.00" fill="#000"/>
<use href="#g3" color="#1ccc1c"/><use href="#a3"/>
</svg>
<svg x="453.90" y="567.60" width="46.30" height="46.00" viewBox="0 0 46.30 46.00">
<rect x="0" y="0" width="46.30" height="46.00" fill="#000"/>
<use href="#h3"/><use href="#b3"/><g style="mix-blend-mode:screen"><use href="#r3" color="#d41858"/></g><use href="#g3" color="#30e070"/><use href="#a3"/>
</svg>
<svg x="305.50" y="620.00" width="46.30" height="46.00" viewBox="0 0 46.30 46.00">
<rect x="0" y="0" width="46.30" height="46.00" fill="#000"/>
<use href="#h4"/><use href="#b4"/>
</svg>
<svg x="355.10" y="620.00" width="46.30" height="46.00" viewBox="0 0 46.30 46.00">
<rect x="0" y="0" width="46.30" height="46.00" fill="#000"/>
<use href="#r4" color="#da1010"/><use href="#a4"/>
</svg>
<svg x="404.40" y="620.00" width="46.30" height="46.00" viewBox="0 0 46.30 46.00">
<rect x="0" y="0" width="46.30" height="46.00" fill="#000"/>
<use href="#g4" color="#1ccc1c"/><use href="#a4"/>
</svg>
<svg x="453.90" y="620.00" width="46.30" height="46.00" viewBox="0 0 46.30 46.00">
<rect x="0" y="0" width="46.30" height="46.00" fill="#000"/>
<use href="#h4"/><use href="#b4"/><g style="mix-blend-mode:screen"><use href="#r4" color="#d41858"/></g><use href="#g4" color="#30e070"/><use href="#a4"/>
<rect x="34.6" y="42.9" width="9.8" height="1.1" fill="#e8e8e8"/>
<text x="39.5" y="41.9" font-size="4.6" fill="#e0e0e0" text-anchor="middle">5μm</text>
</svg>
<text x="350.80" y="418.00" font-size="7.2" fill="#e4e4e4" text-anchor="end" textLength="17.0" lengthAdjust="spacingAndGlyphs">DAPI</text>
<text x="400.40" y="418.00" font-size="7.2" fill="#e4e4e4" text-anchor="end" textLength="21.6" lengthAdjust="spacingAndGlyphs">Tom20</text>
<text x="449.70" y="418.00" font-size="7.2" fill="#e4e4e4" text-anchor="end" textLength="14.0" lengthAdjust="spacingAndGlyphs">LC3</text>
<text x="499.20" y="418.00" font-size="7.2" fill="#e4e4e4" text-anchor="end" textLength="24.2" lengthAdjust="spacingAndGlyphs">merged</text>
<text transform="translate(289.80,435.00) rotate(-90)" font-size="8.4" fill="#1a1a1a" text-anchor="middle" textLength="22.0" lengthAdjust="spacingAndGlyphs" stroke="#1a1a1a" stroke-width="0.16">shCtrl</text>
<text transform="translate(300.00,435.00) rotate(-90)" font-size="8.4" fill="#1a1a1a" text-anchor="middle" textLength="24.6" lengthAdjust="spacingAndGlyphs" stroke="#1a1a1a" stroke-width="0.16">+mock</text>
<text transform="translate(289.80,487.30) rotate(-90)" font-size="8.4" fill="#1a1a1a" text-anchor="middle" textLength="22.4" lengthAdjust="spacingAndGlyphs" stroke="#1a1a1a" stroke-width="0.16">shp62</text>
<text transform="translate(300.00,487.30) rotate(-90)" font-size="8.4" fill="#1a1a1a" text-anchor="middle" textLength="24.6" lengthAdjust="spacingAndGlyphs" stroke="#1a1a1a" stroke-width="0.16">+mock</text>
<text transform="translate(289.80,539.70) rotate(-90)" font-size="8.4" fill="#1a1a1a" text-anchor="middle" textLength="22.4" lengthAdjust="spacingAndGlyphs" stroke="#1a1a1a" stroke-width="0.16">shp62</text>
<text transform="translate(300.00,539.70) rotate(-90)" font-size="8.4" fill="#1a1a1a" text-anchor="middle" textLength="32.0" lengthAdjust="spacingAndGlyphs" stroke="#1a1a1a" stroke-width="0.16">+p62 WT</text>
<text transform="translate(289.80,591.60) rotate(-90)" font-size="8.4" fill="#1a1a1a" text-anchor="middle" textLength="29.5" lengthAdjust="spacingAndGlyphs" stroke="#1a1a1a" stroke-width="0.16">shp62 +</text>
<text transform="translate(300.00,591.60) rotate(-90)" font-size="8.4" fill="#1a1a1a" text-anchor="middle" textLength="33.5" lengthAdjust="spacingAndGlyphs" stroke="#1a1a1a" stroke-width="0.16">p62 ΔLIR</text>
<text transform="translate(289.80,644.00) rotate(-90)" font-size="8.4" fill="#1a1a1a" text-anchor="middle" textLength="45.5" lengthAdjust="spacingAndGlyphs" stroke="#1a1a1a" stroke-width="0.16">shp62 + p62</text>
<text transform="translate(300.00,644.00) rotate(-90)" font-size="8.4" fill="#1a1a1a" text-anchor="middle" textLength="38.5" lengthAdjust="spacingAndGlyphs" stroke="#1a1a1a" stroke-width="0.16">K7A/D69A</text>
<rect x="0.00" y="0.00" width="1.05" height="750.00" fill="#0a0a0a"/>
<rect x="0.00" y="0.00" width="520.00" height="1.10" fill="#0a0a0a"/>
<rect x="518.45" y="0.00" width="1.55" height="750.00" fill="#0a0a0a"/>
<rect x="0.00" y="748.45" width="520.00" height="1.55" fill="#0a0a0a"/>
</svg>
</body></html>
